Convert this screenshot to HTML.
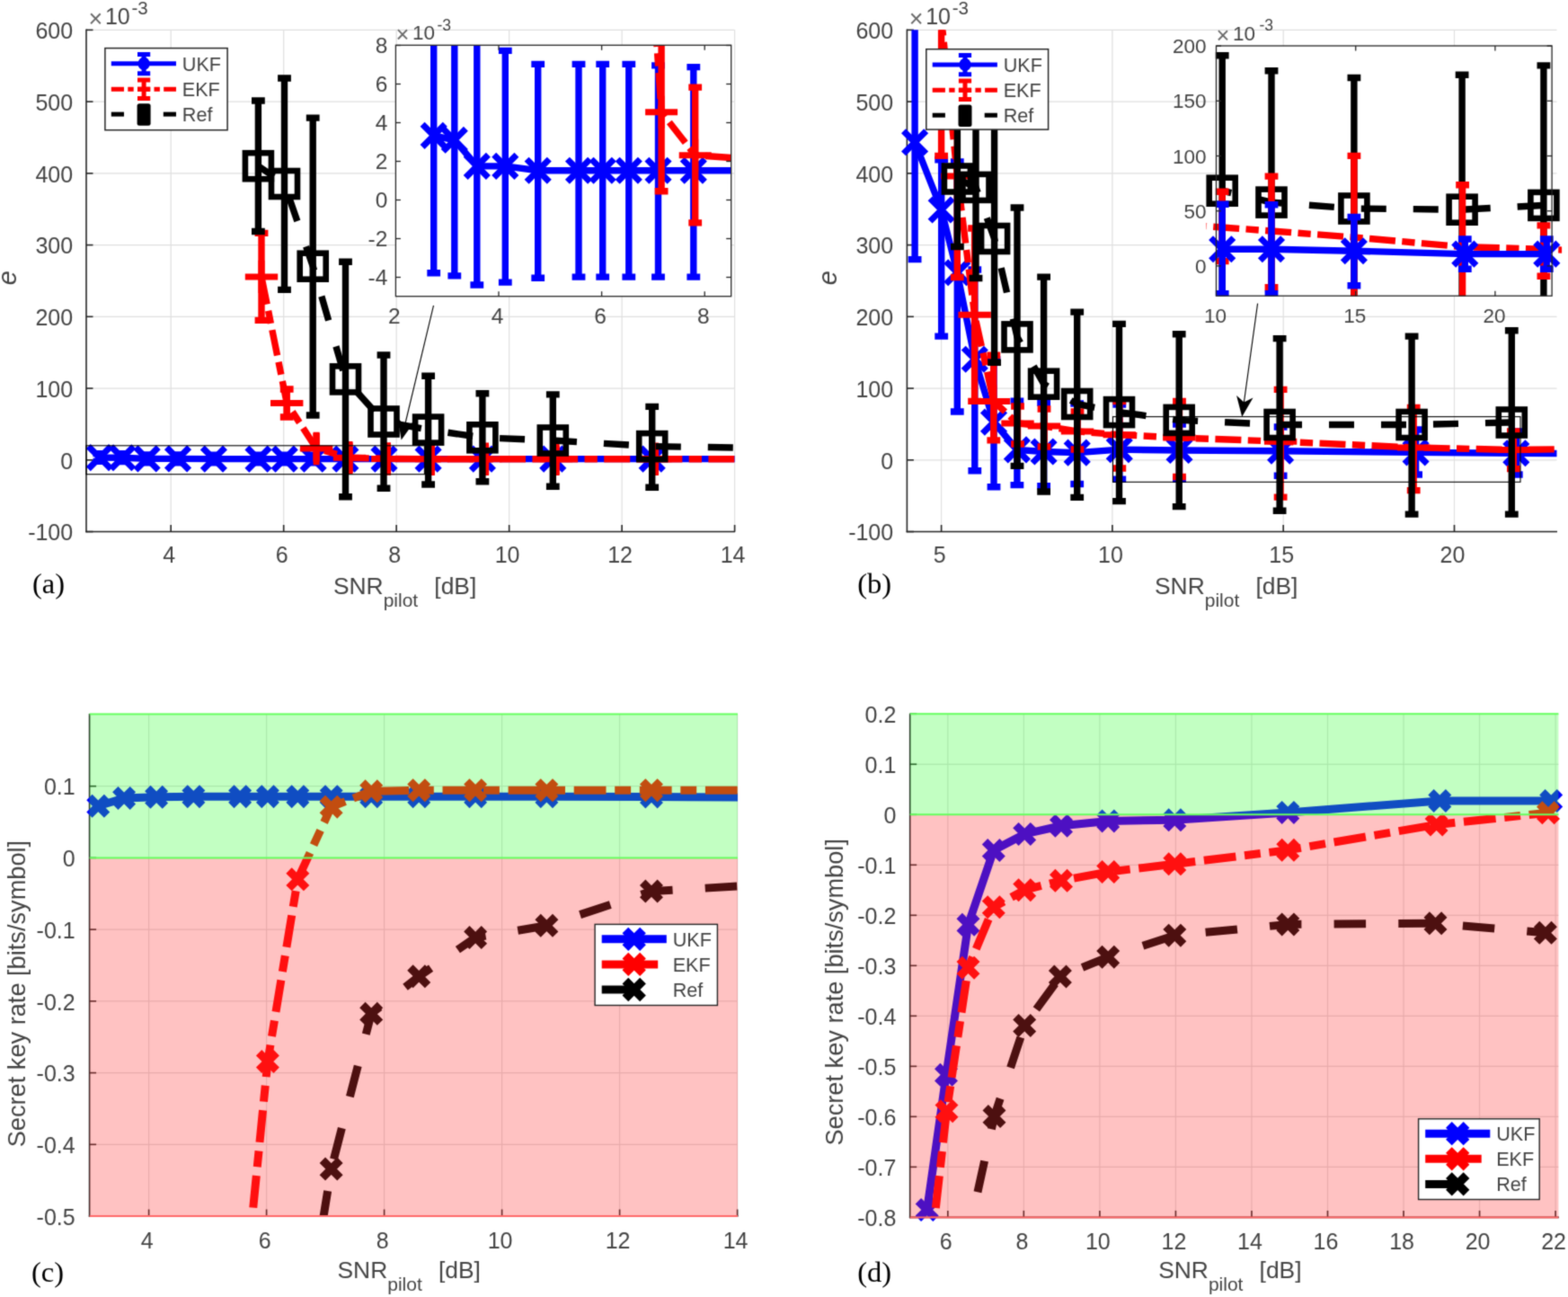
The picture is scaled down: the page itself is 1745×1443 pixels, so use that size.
<!DOCTYPE html>
<html><head><meta charset="utf-8"><title>Figure</title>
<style>html,body{margin:0;padding:0;background:#fff;}svg{display:block;}</style>
</head><body>
<svg xmlns="http://www.w3.org/2000/svg" width="1745" height="1443" viewBox="0 0 1745 1443">
<defs><filter id="soft" x="0" y="0" width="1745" height="1443" filterUnits="userSpaceOnUse" color-interpolation-filters="sRGB"><feConvolveMatrix order="3" kernelMatrix="0.062 0.249 0.062 0.249 1 0.249 0.062 0.249 0.062" divisor="2.244" edgeMode="duplicate"/></filter><clipPath id="cA"><rect x="96" y="33.2" width="721.6" height="558.3"/></clipPath><clipPath id="cIA"><rect x="440.4" y="50.3" width="373.3" height="279.4"/></clipPath><clipPath id="cB"><rect x="1009.4" y="33.2" width="723.1" height="558.3"/></clipPath><clipPath id="cIB"><rect x="1342.5" y="51" width="395.6" height="278.2"/></clipPath><clipPath id="cC"><rect x="99.6" y="794.5" width="721.4" height="558.5"/></clipPath><clipPath id="cD"><rect x="1012.7" y="794.3" width="721.7" height="560.1"/></clipPath></defs>
<g filter="url(#soft)">
<rect x="0" y="0" width="1745" height="1443" fill="#ffffff"/>
<line x1="190.2" y1="33.2" x2="190.2" y2="591.5" stroke="#dfdfdf" stroke-width="1.2"/>
<line x1="315.68" y1="33.2" x2="315.68" y2="591.5" stroke="#dfdfdf" stroke-width="1.2"/>
<line x1="441.16" y1="33.2" x2="441.16" y2="591.5" stroke="#dfdfdf" stroke-width="1.2"/>
<line x1="566.64" y1="33.2" x2="566.64" y2="591.5" stroke="#dfdfdf" stroke-width="1.2"/>
<line x1="692.12" y1="33.2" x2="692.12" y2="591.5" stroke="#dfdfdf" stroke-width="1.2"/>
<line x1="817.6" y1="33.2" x2="817.6" y2="591.5" stroke="#dfdfdf" stroke-width="1.2"/>
<line x1="96" y1="591.54" x2="817.6" y2="591.54" stroke="#dfdfdf" stroke-width="1.2"/>
<line x1="96" y1="511.8" x2="817.6" y2="511.8" stroke="#dfdfdf" stroke-width="1.2"/>
<line x1="96" y1="432.06" x2="817.6" y2="432.06" stroke="#dfdfdf" stroke-width="1.2"/>
<line x1="96" y1="352.32" x2="817.6" y2="352.32" stroke="#dfdfdf" stroke-width="1.2"/>
<line x1="96" y1="272.58" x2="817.6" y2="272.58" stroke="#dfdfdf" stroke-width="1.2"/>
<line x1="96" y1="192.84" x2="817.6" y2="192.84" stroke="#dfdfdf" stroke-width="1.2"/>
<line x1="96" y1="113.1" x2="817.6" y2="113.1" stroke="#dfdfdf" stroke-width="1.2"/>
<line x1="96" y1="33.36" x2="817.6" y2="33.36" stroke="#dfdfdf" stroke-width="1.2"/>
<line x1="96" y1="32.6" x2="96" y2="592.3" stroke="#262626" stroke-width="1.6"/>
<line x1="95.2" y1="591.5" x2="818.1" y2="591.5" stroke="#262626" stroke-width="1.6"/>
<line x1="190.2" y1="591.5" x2="190.2" y2="584" stroke="#262626" stroke-width="1.6"/>
<line x1="315.68" y1="591.5" x2="315.68" y2="584" stroke="#262626" stroke-width="1.6"/>
<line x1="441.16" y1="591.5" x2="441.16" y2="584" stroke="#262626" stroke-width="1.6"/>
<line x1="566.64" y1="591.5" x2="566.64" y2="584" stroke="#262626" stroke-width="1.6"/>
<line x1="692.12" y1="591.5" x2="692.12" y2="584" stroke="#262626" stroke-width="1.6"/>
<line x1="817.6" y1="591.5" x2="817.6" y2="584" stroke="#262626" stroke-width="1.6"/>
<line x1="96" y1="591.54" x2="103.5" y2="591.54" stroke="#262626" stroke-width="1.6"/>
<line x1="96" y1="511.8" x2="103.5" y2="511.8" stroke="#262626" stroke-width="1.6"/>
<line x1="96" y1="432.06" x2="103.5" y2="432.06" stroke="#262626" stroke-width="1.6"/>
<line x1="96" y1="352.32" x2="103.5" y2="352.32" stroke="#262626" stroke-width="1.6"/>
<line x1="96" y1="272.58" x2="103.5" y2="272.58" stroke="#262626" stroke-width="1.6"/>
<line x1="96" y1="192.84" x2="103.5" y2="192.84" stroke="#262626" stroke-width="1.6"/>
<line x1="96" y1="113.1" x2="103.5" y2="113.1" stroke="#262626" stroke-width="1.6"/>
<line x1="96" y1="33.36" x2="103.5" y2="33.36" stroke="#262626" stroke-width="1.6"/>
<text x="188.2" y="625.8" font-family="'Liberation Sans', Arial, sans-serif" font-size="25" fill="#444444" text-anchor="middle">4</text>
<text x="313.68" y="625.8" font-family="'Liberation Sans', Arial, sans-serif" font-size="25" fill="#444444" text-anchor="middle">6</text>
<text x="439.16" y="625.8" font-family="'Liberation Sans', Arial, sans-serif" font-size="25" fill="#444444" text-anchor="middle">8</text>
<text x="564.64" y="625.8" font-family="'Liberation Sans', Arial, sans-serif" font-size="25" fill="#444444" text-anchor="middle">10</text>
<text x="690.12" y="625.8" font-family="'Liberation Sans', Arial, sans-serif" font-size="25" fill="#444444" text-anchor="middle">12</text>
<text x="815.6" y="625.8" font-family="'Liberation Sans', Arial, sans-serif" font-size="25" fill="#444444" text-anchor="middle">14</text>
<text x="81.2" y="601.29" font-family="'Liberation Sans', Arial, sans-serif" font-size="25" fill="#444444" text-anchor="end">-100</text>
<text x="81.2" y="521.55" font-family="'Liberation Sans', Arial, sans-serif" font-size="25" fill="#444444" text-anchor="end">0</text>
<text x="81.2" y="441.81" font-family="'Liberation Sans', Arial, sans-serif" font-size="25" fill="#444444" text-anchor="end">100</text>
<text x="81.2" y="362.07" font-family="'Liberation Sans', Arial, sans-serif" font-size="25" fill="#444444" text-anchor="end">200</text>
<text x="81.2" y="282.33" font-family="'Liberation Sans', Arial, sans-serif" font-size="25" fill="#444444" text-anchor="end">300</text>
<text x="81.2" y="202.59" font-family="'Liberation Sans', Arial, sans-serif" font-size="25" fill="#444444" text-anchor="end">400</text>
<text x="81.2" y="122.85" font-family="'Liberation Sans', Arial, sans-serif" font-size="25" fill="#444444" text-anchor="end">500</text>
<text x="81.2" y="43.11" font-family="'Liberation Sans', Arial, sans-serif" font-size="25" fill="#444444" text-anchor="end">600</text>
<polyline points="110.9,509.1 136.2,509.3 163.6,510.4 198,510.4 237.9,510.6 287.5,510.6 316.7,510.6 348.6,510.6 384.4,510.6 427.5,510.6 476.6,510.6 536.9,510.6 615.3,510.6 725.7,510.6 860,510.6" fill="none" stroke="#0000ff" stroke-width="7.4" stroke-linejoin="miter" stroke-linecap="butt" clip-path="url(#cA)"/>
<path d="M110.9 504.6L110.9 513.4M103.5 504.6L118.3 504.6M103.5 513.4L118.3 513.4" stroke="#0000ff" stroke-width="7.4" fill="none" clip-path="url(#cA)"/>
<path d="M98.3 496.5L123.5 521.7M98.3 521.7L123.5 496.5" stroke="#0000ff" stroke-width="7" fill="none"/>
<path d="M136.2 504.8L136.2 513.6M128.8 504.8L143.6 504.8M128.8 513.6L143.6 513.6" stroke="#0000ff" stroke-width="7.4" fill="none" clip-path="url(#cA)"/>
<path d="M123.6 496.7L148.8 521.9M123.6 521.9L148.8 496.7" stroke="#0000ff" stroke-width="7" fill="none"/>
<path d="M163.6 505.9L163.6 514.7M156.2 505.9L171 505.9M156.2 514.7L171 514.7" stroke="#0000ff" stroke-width="7.4" fill="none" clip-path="url(#cA)"/>
<path d="M151 497.8L176.2 523M151 523L176.2 497.8" stroke="#0000ff" stroke-width="7" fill="none"/>
<path d="M198 505.9L198 514.7M190.6 505.9L205.4 505.9M190.6 514.7L205.4 514.7" stroke="#0000ff" stroke-width="7.4" fill="none" clip-path="url(#cA)"/>
<path d="M185.4 497.8L210.6 523M185.4 523L210.6 497.8" stroke="#0000ff" stroke-width="7" fill="none"/>
<path d="M237.9 506.1L237.9 514.9M230.5 506.1L245.3 506.1M230.5 514.9L245.3 514.9" stroke="#0000ff" stroke-width="7.4" fill="none" clip-path="url(#cA)"/>
<path d="M225.3 498L250.5 523.2M225.3 523.2L250.5 498" stroke="#0000ff" stroke-width="7" fill="none"/>
<path d="M287.5 506.1L287.5 514.9M280.1 506.1L294.9 506.1M280.1 514.9L294.9 514.9" stroke="#0000ff" stroke-width="7.4" fill="none" clip-path="url(#cA)"/>
<path d="M274.9 498L300.1 523.2M274.9 523.2L300.1 498" stroke="#0000ff" stroke-width="7" fill="none"/>
<path d="M316.7 506.1L316.7 514.9M309.3 506.1L324.1 506.1M309.3 514.9L324.1 514.9" stroke="#0000ff" stroke-width="7.4" fill="none" clip-path="url(#cA)"/>
<path d="M304.1 498L329.3 523.2M304.1 523.2L329.3 498" stroke="#0000ff" stroke-width="7" fill="none"/>
<path d="M348.6 506.1L348.6 514.9M341.2 506.1L356 506.1M341.2 514.9L356 514.9" stroke="#0000ff" stroke-width="7.4" fill="none" clip-path="url(#cA)"/>
<path d="M336 498L361.2 523.2M336 523.2L361.2 498" stroke="#0000ff" stroke-width="7" fill="none"/>
<path d="M384.4 506.1L384.4 514.9M377 506.1L391.8 506.1M377 514.9L391.8 514.9" stroke="#0000ff" stroke-width="7.4" fill="none" clip-path="url(#cA)"/>
<path d="M371.8 498L397 523.2M371.8 523.2L397 498" stroke="#0000ff" stroke-width="7" fill="none"/>
<path d="M427.5 506.1L427.5 514.9M420.1 506.1L434.9 506.1M420.1 514.9L434.9 514.9" stroke="#0000ff" stroke-width="7.4" fill="none" clip-path="url(#cA)"/>
<path d="M414.9 498L440.1 523.2M414.9 523.2L440.1 498" stroke="#0000ff" stroke-width="7" fill="none"/>
<path d="M476.6 506.1L476.6 514.9M469.2 506.1L484 506.1M469.2 514.9L484 514.9" stroke="#0000ff" stroke-width="7.4" fill="none" clip-path="url(#cA)"/>
<path d="M464 498L489.2 523.2M464 523.2L489.2 498" stroke="#0000ff" stroke-width="7" fill="none"/>
<path d="M536.9 506.1L536.9 514.9M529.5 506.1L544.3 506.1M529.5 514.9L544.3 514.9" stroke="#0000ff" stroke-width="7.4" fill="none" clip-path="url(#cA)"/>
<path d="M524.3 498L549.5 523.2M524.3 523.2L549.5 498" stroke="#0000ff" stroke-width="7" fill="none"/>
<path d="M615.3 506.1L615.3 514.9M607.9 506.1L622.7 506.1M607.9 514.9L622.7 514.9" stroke="#0000ff" stroke-width="7.4" fill="none" clip-path="url(#cA)"/>
<path d="M602.7 498L627.9 523.2M602.7 523.2L627.9 498" stroke="#0000ff" stroke-width="7" fill="none"/>
<path d="M725.7 506.1L725.7 514.9M718.3 506.1L733.1 506.1M718.3 514.9L733.1 514.9" stroke="#0000ff" stroke-width="7.4" fill="none" clip-path="url(#cA)"/>
<path d="M713.1 498L738.3 523.2M713.1 523.2L738.3 498" stroke="#0000ff" stroke-width="7" fill="none"/>
<polyline points="291,307.9 319.2,448.5 352.1,499 389,509.3 431.4,510.4 480.3,510.7 540.5,510.7 619,510.7 729.4,510.7 860,510.7" fill="none" stroke="#ff0000" stroke-width="7.4" stroke-linejoin="miter" stroke-linecap="butt" stroke-dasharray="29 7.4 14.3 7.4" stroke-dashoffset="55.8" clip-path="url(#cA)"/>
<path d="M291 259.4L291 356.4M283.6 259.4L298.4 259.4M283.6 356.4L298.4 356.4" stroke="#ff0000" stroke-width="7.4" fill="none" clip-path="url(#cA)"/>
<path d="M272.8 307.9L309.2 307.9M291 289.7L291 326.1" stroke="#ff0000" stroke-width="7" fill="none"/>
<path d="M319.2 433L319.2 464M311.8 433L326.6 433M311.8 464L326.6 464" stroke="#ff0000" stroke-width="7.4" fill="none" clip-path="url(#cA)"/>
<path d="M301 448.5L337.4 448.5M319.2 430.3L319.2 466.7" stroke="#ff0000" stroke-width="7" fill="none"/>
<path d="M352.1 481.8L352.1 513.6M352.1 481.8L352.1 481.8M352.1 513.6L352.1 513.6" stroke="#ff0000" stroke-width="7.4" fill="none" clip-path="url(#cA)"/>
<path d="M333.9 499L370.3 499M352.1 480.8L352.1 517.2" stroke="#ff0000" stroke-width="7" fill="none"/>
<path d="M389 492.4L389 526.3M389 492.4L389 492.4M389 526.3L389 526.3" stroke="#ff0000" stroke-width="7.4" fill="none" clip-path="url(#cA)"/>
<path d="M370.8 509.3L407.2 509.3M389 491.1L389 527.5" stroke="#ff0000" stroke-width="7" fill="none"/>
<path d="M431.4 494.5L431.4 528.4M431.4 494.5L431.4 494.5M431.4 528.4L431.4 528.4" stroke="#ff0000" stroke-width="7.4" fill="none" clip-path="url(#cA)"/>
<path d="M413.2 510.4L449.6 510.4M431.4 492.2L431.4 528.6" stroke="#ff0000" stroke-width="7" fill="none"/>
<path d="M480.3 495.5L480.3 528.2M480.3 495.5L480.3 495.5M480.3 528.2L480.3 528.2" stroke="#ff0000" stroke-width="7.4" fill="none" clip-path="url(#cA)"/>
<path d="M462.1 510.7L498.5 510.7M480.3 492.5L480.3 528.9" stroke="#ff0000" stroke-width="7" fill="none"/>
<path d="M540.5 495.5L540.5 528.2M540.5 495.5L540.5 495.5M540.5 528.2L540.5 528.2" stroke="#ff0000" stroke-width="7.4" fill="none" clip-path="url(#cA)"/>
<path d="M522.3 510.7L558.7 510.7M540.5 492.5L540.5 528.9" stroke="#ff0000" stroke-width="7" fill="none"/>
<path d="M619 495.5L619 528.2M619 495.5L619 495.5M619 528.2L619 528.2" stroke="#ff0000" stroke-width="7.4" fill="none" clip-path="url(#cA)"/>
<path d="M600.8 510.7L637.2 510.7M619 492.5L619 528.9" stroke="#ff0000" stroke-width="7" fill="none"/>
<path d="M729.4 495.5L729.4 528.2M729.4 495.5L729.4 495.5M729.4 528.2L729.4 528.2" stroke="#ff0000" stroke-width="7.4" fill="none" clip-path="url(#cA)"/>
<path d="M711.2 510.7L747.6 510.7M729.4 492.5L729.4 528.9" stroke="#ff0000" stroke-width="7" fill="none"/>
<polyline points="287.4,184.7 316.5,204.5 348.2,296.2 384.5,421.9 427,469 476.6,478.1 536.9,486.8 615.3,490 725.7,496.6 900,499.3" fill="none" stroke="#000000" stroke-width="7.4" stroke-linejoin="miter" stroke-linecap="butt" stroke-dasharray="28 30" stroke-dashoffset="6.98" clip-path="url(#cA)"/>
<path d="M287.4 112L287.4 257.5M280 112L294.8 112M280 257.5L294.8 257.5" stroke="#000000" stroke-width="7.4" fill="none" clip-path="url(#cA)"/>
<rect x="272.9" y="170.2" width="29" height="29" fill="none" stroke="#000000" stroke-width="6.6"/>
<path d="M316.5 87L316.5 322.4M309.1 87L323.9 87M309.1 322.4L323.9 322.4" stroke="#000000" stroke-width="7.4" fill="none" clip-path="url(#cA)"/>
<rect x="302" y="190" width="29" height="29" fill="none" stroke="#000000" stroke-width="6.6"/>
<path d="M348.2 131.1L348.2 462M340.8 131.1L355.6 131.1M340.8 462L355.6 462" stroke="#000000" stroke-width="7.4" fill="none" clip-path="url(#cA)"/>
<rect x="333.7" y="281.7" width="29" height="29" fill="none" stroke="#000000" stroke-width="6.6"/>
<path d="M384.5 291.3L384.5 552.8M377.1 291.3L391.9 291.3M377.1 552.8L391.9 552.8" stroke="#000000" stroke-width="7.4" fill="none" clip-path="url(#cA)"/>
<rect x="370" y="407.4" width="29" height="29" fill="none" stroke="#000000" stroke-width="6.6"/>
<path d="M427 395L427 543.3M419.6 395L434.4 395M419.6 543.3L434.4 543.3" stroke="#000000" stroke-width="7.4" fill="none" clip-path="url(#cA)"/>
<rect x="412.5" y="454.5" width="29" height="29" fill="none" stroke="#000000" stroke-width="6.6"/>
<path d="M476.6 418.2L476.6 539M469.2 418.2L484 418.2M469.2 539L484 539" stroke="#000000" stroke-width="7.4" fill="none" clip-path="url(#cA)"/>
<rect x="462.1" y="463.6" width="29" height="29" fill="none" stroke="#000000" stroke-width="6.6"/>
<path d="M536.9 437.8L536.9 535.8M529.5 437.8L544.3 437.8M529.5 535.8L544.3 535.8" stroke="#000000" stroke-width="7.4" fill="none" clip-path="url(#cA)"/>
<rect x="522.4" y="472.3" width="29" height="29" fill="none" stroke="#000000" stroke-width="6.6"/>
<path d="M615.3 438.9L615.3 541.2M607.9 438.9L622.7 438.9M607.9 541.2L622.7 541.2" stroke="#000000" stroke-width="7.4" fill="none" clip-path="url(#cA)"/>
<rect x="600.8" y="475.5" width="29" height="29" fill="none" stroke="#000000" stroke-width="6.6"/>
<path d="M725.7 452.4L725.7 542.3M718.3 452.4L733.1 452.4M718.3 542.3L733.1 542.3" stroke="#000000" stroke-width="7.4" fill="none" clip-path="url(#cA)"/>
<rect x="711.2" y="482.1" width="29" height="29" fill="none" stroke="#000000" stroke-width="6.6"/>
<rect x="96" y="495.8" width="376.4" height="31.9" fill="none" stroke="#000" stroke-width="1.1"/>
<line x1="482.5" y1="339.8" x2="449.96" y2="475.5" stroke="#000" stroke-width="1.1"/>
<path d="M446.6 489.5 L460.94 469.59 L450.42 473.55 L442.85 465.26 Z" fill="#000"/>
<rect x="116.9" y="53.6" width="136.2" height="91.1" fill="#fff" stroke="#262626" stroke-width="1.5"/>
<line x1="123.8" y1="70.8" x2="196" y2="70.8" stroke="#0000ff" stroke-width="5"/>
<path d="M160.1 60.4L160.1 81.7M153 60.4L167.2 60.4M153 81.7L167.2 81.7" stroke="#0000ff" stroke-width="5" fill="none"/>
<ellipse cx="160.1" cy="70.8" rx="6.6" ry="7.2" fill="#0000ff"/>
<polyline points="123.8,99.2 196,99.2" fill="none" stroke="#ff0000" stroke-width="5" stroke-linejoin="miter" stroke-linecap="butt" stroke-dasharray="14.2 4.3 6.4 4.3"/>
<path d="M160.1 89L160.1 109.4M153 89L167.2 89M153 109.4L167.2 109.4" stroke="#ff0000" stroke-width="5" fill="none"/>
<line x1="153" y1="99.2" x2="167.2" y2="99.2" stroke="#ff0000" stroke-width="5"/>
<line x1="123.8" y1="127.1" x2="138" y2="127.1" stroke="#000000" stroke-width="5"/>
<line x1="181.8" y1="127.1" x2="196" y2="127.1" stroke="#000000" stroke-width="5"/>
<rect x="152.6" y="115.3" width="15" height="24.5" rx="2.5" fill="#000"/>
<text x="202.8" y="79.2" font-family="'Liberation Sans', Arial, sans-serif" font-size="21.6" fill="#444444" text-anchor="start">UKF</text>
<text x="202.8" y="107" font-family="'Liberation Sans', Arial, sans-serif" font-size="21.6" fill="#444444" text-anchor="start">EKF</text>
<text x="202.8" y="134.9" font-family="'Liberation Sans', Arial, sans-serif" font-size="21.6" fill="#444444" text-anchor="start">Ref</text>
<rect x="440.4" y="50.3" width="373.3" height="279.4" fill="#fff"/>
<polyline points="482.7,150.9 505.8,155.8 530.8,184.9 562.3,184.9 598.7,189.7 644,189.7 670.7,189.7 699.8,189.7 732.5,189.7 771.8,189.7 820,189.7" fill="none" stroke="#0000ff" stroke-width="7.4" stroke-linejoin="miter" stroke-linecap="butt" clip-path="url(#cIA)"/>
<path d="M482.7 20L482.7 303.7M475.3 20L490.1 20M475.3 303.7L490.1 303.7" stroke="#0000ff" stroke-width="7.4" fill="none" clip-path="url(#cIA)"/>
<path d="M470.1 138.3L495.3 163.5M470.1 163.5L495.3 138.3" stroke="#0000ff" stroke-width="7" fill="none" clip-path="url(#cIA)"/>
<path d="M505.8 20L505.8 306.9M498.4 20L513.2 20M498.4 306.9L513.2 306.9" stroke="#0000ff" stroke-width="7.4" fill="none" clip-path="url(#cIA)"/>
<path d="M493.2 143.2L518.4 168.4M493.2 168.4L518.4 143.2" stroke="#0000ff" stroke-width="7" fill="none" clip-path="url(#cIA)"/>
<path d="M530.8 20L530.8 317M523.4 20L538.2 20M523.4 317L538.2 317" stroke="#0000ff" stroke-width="7.4" fill="none" clip-path="url(#cIA)"/>
<path d="M518.2 172.3L543.4 197.5M518.2 197.5L543.4 172.3" stroke="#0000ff" stroke-width="7" fill="none" clip-path="url(#cIA)"/>
<path d="M562.3 56.4L562.3 314.1M554.9 56.4L569.7 56.4M554.9 314.1L569.7 314.1" stroke="#0000ff" stroke-width="7.4" fill="none" clip-path="url(#cIA)"/>
<path d="M549.7 172.3L574.9 197.5M549.7 197.5L574.9 172.3" stroke="#0000ff" stroke-width="7" fill="none" clip-path="url(#cIA)"/>
<path d="M598.7 71.4L598.7 309.3M591.3 71.4L606.1 71.4M591.3 309.3L606.1 309.3" stroke="#0000ff" stroke-width="7.4" fill="none" clip-path="url(#cIA)"/>
<path d="M586.1 177.1L611.3 202.3M586.1 202.3L611.3 177.1" stroke="#0000ff" stroke-width="7" fill="none" clip-path="url(#cIA)"/>
<path d="M644 71.4L644 308.1M636.6 71.4L651.4 71.4M636.6 308.1L651.4 308.1" stroke="#0000ff" stroke-width="7.4" fill="none" clip-path="url(#cIA)"/>
<path d="M631.4 177.1L656.6 202.3M631.4 202.3L656.6 177.1" stroke="#0000ff" stroke-width="7" fill="none" clip-path="url(#cIA)"/>
<path d="M670.7 71.4L670.7 308.1M663.3 71.4L678.1 71.4M663.3 308.1L678.1 308.1" stroke="#0000ff" stroke-width="7.4" fill="none" clip-path="url(#cIA)"/>
<path d="M658.1 177.1L683.3 202.3M658.1 202.3L683.3 177.1" stroke="#0000ff" stroke-width="7" fill="none" clip-path="url(#cIA)"/>
<path d="M699.8 71.4L699.8 308.1M692.4 71.4L707.2 71.4M692.4 308.1L707.2 308.1" stroke="#0000ff" stroke-width="7.4" fill="none" clip-path="url(#cIA)"/>
<path d="M687.2 177.1L712.4 202.3M687.2 202.3L712.4 177.1" stroke="#0000ff" stroke-width="7" fill="none" clip-path="url(#cIA)"/>
<path d="M732.5 72.9L732.5 308.1M725.1 72.9L739.9 72.9M725.1 308.1L739.9 308.1" stroke="#0000ff" stroke-width="7.4" fill="none" clip-path="url(#cIA)"/>
<path d="M719.9 177.1L745.1 202.3M719.9 202.3L745.1 177.1" stroke="#0000ff" stroke-width="7" fill="none" clip-path="url(#cIA)"/>
<path d="M771.8 74.6L771.8 308.1M764.4 74.6L779.2 74.6M764.4 308.1L779.2 308.1" stroke="#0000ff" stroke-width="7.4" fill="none" clip-path="url(#cIA)"/>
<path d="M759.2 177.1L784.4 202.3M759.2 202.3L784.4 177.1" stroke="#0000ff" stroke-width="7" fill="none" clip-path="url(#cIA)"/>
<polyline points="700,-400 736.1,124.8 773.7,172.8 830,176.5" fill="none" stroke="#ff0000" stroke-width="7.4" stroke-linejoin="miter" stroke-linecap="butt" stroke-dasharray="29 7.4 14.3 7.4" stroke-dashoffset="40.76" clip-path="url(#cIA)"/>
<path d="M736.1 20L736.1 212.8M728.7 20L743.5 20M728.7 212.8L743.5 212.8" stroke="#ff0000" stroke-width="7.4" fill="none" clip-path="url(#cIA)"/>
<path d="M773.7 97.1L773.7 247.9M766.3 97.1L781.1 97.1M766.3 247.9L781.1 247.9" stroke="#ff0000" stroke-width="7.4" fill="none" clip-path="url(#cIA)"/>
<path d="M718.1 124.8L754.1 124.8M736.1 106.8L736.1 142.8" stroke="#ff0000" stroke-width="7" fill="none" clip-path="url(#cIA)"/>
<path d="M755.7 172.8L791.7 172.8M773.7 154.8L773.7 190.8" stroke="#ff0000" stroke-width="7" fill="none" clip-path="url(#cIA)"/>
<rect x="440.4" y="50.3" width="373.3" height="279.4" fill="none" stroke="#262626" stroke-width="1.3"/>
<line x1="555" y1="329.7" x2="555" y2="324.2" stroke="#262626" stroke-width="1.3"/>
<line x1="555" y1="50.3" x2="555" y2="55.8" stroke="#262626" stroke-width="1.3"/>
<line x1="669.6" y1="329.7" x2="669.6" y2="324.2" stroke="#262626" stroke-width="1.3"/>
<line x1="669.6" y1="50.3" x2="669.6" y2="55.8" stroke="#262626" stroke-width="1.3"/>
<line x1="784.2" y1="329.7" x2="784.2" y2="324.2" stroke="#262626" stroke-width="1.3"/>
<line x1="784.2" y1="50.3" x2="784.2" y2="55.8" stroke="#262626" stroke-width="1.3"/>
<line x1="440.4" y1="308.5" x2="445.9" y2="308.5" stroke="#262626" stroke-width="1.3"/>
<line x1="813.7" y1="308.5" x2="808.2" y2="308.5" stroke="#262626" stroke-width="1.3"/>
<line x1="440.4" y1="265.5" x2="445.9" y2="265.5" stroke="#262626" stroke-width="1.3"/>
<line x1="813.7" y1="265.5" x2="808.2" y2="265.5" stroke="#262626" stroke-width="1.3"/>
<line x1="440.4" y1="222.5" x2="445.9" y2="222.5" stroke="#262626" stroke-width="1.3"/>
<line x1="813.7" y1="222.5" x2="808.2" y2="222.5" stroke="#262626" stroke-width="1.3"/>
<line x1="440.4" y1="179.5" x2="445.9" y2="179.5" stroke="#262626" stroke-width="1.3"/>
<line x1="813.7" y1="179.5" x2="808.2" y2="179.5" stroke="#262626" stroke-width="1.3"/>
<line x1="440.4" y1="136.5" x2="445.9" y2="136.5" stroke="#262626" stroke-width="1.3"/>
<line x1="813.7" y1="136.5" x2="808.2" y2="136.5" stroke="#262626" stroke-width="1.3"/>
<line x1="440.4" y1="93.5" x2="445.9" y2="93.5" stroke="#262626" stroke-width="1.3"/>
<line x1="813.7" y1="93.5" x2="808.2" y2="93.5" stroke="#262626" stroke-width="1.3"/>
<line x1="440.4" y1="50.5" x2="445.9" y2="50.5" stroke="#262626" stroke-width="1.3"/>
<line x1="813.7" y1="50.5" x2="808.2" y2="50.5" stroke="#262626" stroke-width="1.3"/>
<text x="438.9" y="360.2" font-family="'Liberation Sans', Arial, sans-serif" font-size="24.5" fill="#444444" text-anchor="middle">2</text>
<text x="553.5" y="360.2" font-family="'Liberation Sans', Arial, sans-serif" font-size="24.5" fill="#444444" text-anchor="middle">4</text>
<text x="668.1" y="360.2" font-family="'Liberation Sans', Arial, sans-serif" font-size="24.5" fill="#444444" text-anchor="middle">6</text>
<text x="782.7" y="360.2" font-family="'Liberation Sans', Arial, sans-serif" font-size="24.5" fill="#444444" text-anchor="middle">8</text>
<text x="431.4" y="317.27" font-family="'Liberation Sans', Arial, sans-serif" font-size="24.5" fill="#444444" text-anchor="end">-4</text>
<text x="431.4" y="274.27" font-family="'Liberation Sans', Arial, sans-serif" font-size="24.5" fill="#444444" text-anchor="end">-2</text>
<text x="431.4" y="231.27" font-family="'Liberation Sans', Arial, sans-serif" font-size="24.5" fill="#444444" text-anchor="end">0</text>
<text x="431.4" y="188.27" font-family="'Liberation Sans', Arial, sans-serif" font-size="24.5" fill="#444444" text-anchor="end">2</text>
<text x="431.4" y="145.27" font-family="'Liberation Sans', Arial, sans-serif" font-size="24.5" fill="#444444" text-anchor="end">4</text>
<text x="431.4" y="102.27" font-family="'Liberation Sans', Arial, sans-serif" font-size="24.5" fill="#444444" text-anchor="end">6</text>
<text x="431.4" y="59.27" font-family="'Liberation Sans', Arial, sans-serif" font-size="24.5" fill="#444444" text-anchor="end">8</text>
<text x="440.6" y="47.3" font-family="'Liberation Sans', Arial, sans-serif" font-size="25.5" fill="#6a6a6a" text-anchor="start">×</text>
<text x="459" y="44.3" font-family="'Liberation Sans', Arial, sans-serif" font-size="22.5" fill="#444444" text-anchor="start">10</text>
<text x="486.5" y="33.6" font-family="'Liberation Sans', Arial, sans-serif" font-size="17.5" fill="#444444" text-anchor="start">-3</text>
<text x="36" y="659.5" font-family="'Liberation Serif', 'Times New Roman', serif" font-size="32.5" fill="#000" text-anchor="start">(a)</text>
<text x="370.9" y="660.7" font-family="'Liberation Sans', Arial, sans-serif" font-size="26.4" fill="#444444">SNR<tspan font-size="21" dy="14.2">pilot</tspan></text>
<text x="483.3" y="660.7" font-family="'Liberation Sans', Arial, sans-serif" font-size="26.4" fill="#444444" text-anchor="start">[dB]</text>
<text x="0" y="0" transform="translate(18.2,309.3) rotate(-90)" font-family="'Liberation Sans', Arial, sans-serif" font-size="29" font-style="italic" fill="#444444" text-anchor="middle">e</text>
<text x="98.5" y="30" font-family="'Liberation Sans', Arial, sans-serif" font-size="27" fill="#6a6a6a" text-anchor="start">×</text>
<text x="116.9" y="26.6" font-family="'Liberation Sans', Arial, sans-serif" font-size="25" fill="#444444" text-anchor="start">10</text>
<text x="146.5" y="16" font-family="'Liberation Sans', Arial, sans-serif" font-size="20.5" fill="#444444" text-anchor="start">-3</text>
<line x1="1047.6" y1="33.2" x2="1047.6" y2="591.5" stroke="#dfdfdf" stroke-width="1.2"/>
<line x1="1237.9" y1="33.2" x2="1237.9" y2="591.5" stroke="#dfdfdf" stroke-width="1.2"/>
<line x1="1428.2" y1="33.2" x2="1428.2" y2="591.5" stroke="#dfdfdf" stroke-width="1.2"/>
<line x1="1618.5" y1="33.2" x2="1618.5" y2="591.5" stroke="#dfdfdf" stroke-width="1.2"/>
<line x1="1009.4" y1="591.54" x2="1732.5" y2="591.54" stroke="#dfdfdf" stroke-width="1.2"/>
<line x1="1009.4" y1="511.8" x2="1732.5" y2="511.8" stroke="#dfdfdf" stroke-width="1.2"/>
<line x1="1009.4" y1="432.06" x2="1732.5" y2="432.06" stroke="#dfdfdf" stroke-width="1.2"/>
<line x1="1009.4" y1="352.32" x2="1732.5" y2="352.32" stroke="#dfdfdf" stroke-width="1.2"/>
<line x1="1009.4" y1="272.58" x2="1732.5" y2="272.58" stroke="#dfdfdf" stroke-width="1.2"/>
<line x1="1009.4" y1="192.84" x2="1732.5" y2="192.84" stroke="#dfdfdf" stroke-width="1.2"/>
<line x1="1009.4" y1="113.1" x2="1732.5" y2="113.1" stroke="#dfdfdf" stroke-width="1.2"/>
<line x1="1009.4" y1="33.36" x2="1732.5" y2="33.36" stroke="#dfdfdf" stroke-width="1.2"/>
<line x1="1009.4" y1="32.6" x2="1009.4" y2="592.3" stroke="#262626" stroke-width="1.6"/>
<line x1="1008.6" y1="591.5" x2="1733" y2="591.5" stroke="#262626" stroke-width="1.6"/>
<line x1="1047.6" y1="591.5" x2="1047.6" y2="584" stroke="#262626" stroke-width="1.6"/>
<line x1="1237.9" y1="591.5" x2="1237.9" y2="584" stroke="#262626" stroke-width="1.6"/>
<line x1="1428.2" y1="591.5" x2="1428.2" y2="584" stroke="#262626" stroke-width="1.6"/>
<line x1="1618.5" y1="591.5" x2="1618.5" y2="584" stroke="#262626" stroke-width="1.6"/>
<line x1="1009.4" y1="591.54" x2="1016.9" y2="591.54" stroke="#262626" stroke-width="1.6"/>
<line x1="1009.4" y1="511.8" x2="1016.9" y2="511.8" stroke="#262626" stroke-width="1.6"/>
<line x1="1009.4" y1="432.06" x2="1016.9" y2="432.06" stroke="#262626" stroke-width="1.6"/>
<line x1="1009.4" y1="352.32" x2="1016.9" y2="352.32" stroke="#262626" stroke-width="1.6"/>
<line x1="1009.4" y1="272.58" x2="1016.9" y2="272.58" stroke="#262626" stroke-width="1.6"/>
<line x1="1009.4" y1="192.84" x2="1016.9" y2="192.84" stroke="#262626" stroke-width="1.6"/>
<line x1="1009.4" y1="113.1" x2="1016.9" y2="113.1" stroke="#262626" stroke-width="1.6"/>
<line x1="1009.4" y1="33.36" x2="1016.9" y2="33.36" stroke="#262626" stroke-width="1.6"/>
<text x="1045.6" y="625.8" font-family="'Liberation Sans', Arial, sans-serif" font-size="25" fill="#444444" text-anchor="middle">5</text>
<text x="1235.9" y="625.8" font-family="'Liberation Sans', Arial, sans-serif" font-size="25" fill="#444444" text-anchor="middle">10</text>
<text x="1426.2" y="625.8" font-family="'Liberation Sans', Arial, sans-serif" font-size="25" fill="#444444" text-anchor="middle">15</text>
<text x="1616.5" y="625.8" font-family="'Liberation Sans', Arial, sans-serif" font-size="25" fill="#444444" text-anchor="middle">20</text>
<text x="994.2" y="601.29" font-family="'Liberation Sans', Arial, sans-serif" font-size="25" fill="#444444" text-anchor="end">-100</text>
<text x="994.2" y="521.55" font-family="'Liberation Sans', Arial, sans-serif" font-size="25" fill="#444444" text-anchor="end">0</text>
<text x="994.2" y="441.81" font-family="'Liberation Sans', Arial, sans-serif" font-size="25" fill="#444444" text-anchor="end">100</text>
<text x="994.2" y="362.07" font-family="'Liberation Sans', Arial, sans-serif" font-size="25" fill="#444444" text-anchor="end">200</text>
<text x="994.2" y="282.33" font-family="'Liberation Sans', Arial, sans-serif" font-size="25" fill="#444444" text-anchor="end">300</text>
<text x="994.2" y="202.59" font-family="'Liberation Sans', Arial, sans-serif" font-size="25" fill="#444444" text-anchor="end">400</text>
<text x="994.2" y="122.85" font-family="'Liberation Sans', Arial, sans-serif" font-size="25" fill="#444444" text-anchor="end">500</text>
<text x="994.2" y="43.11" font-family="'Liberation Sans', Arial, sans-serif" font-size="25" fill="#444444" text-anchor="end">600</text>
<polyline points="1018.1,158.3 1047.7,233.5 1065.3,303.3 1084.8,399.7 1106,469.6 1131.9,500.4 1161.6,502.5 1198.7,503.6 1245.8,500.1 1312.5,501 1425.1,501.7 1575.6,503.4 1687.3,504.2 1800,505" fill="none" stroke="#0000ff" stroke-width="7.4" stroke-linejoin="miter" stroke-linecap="butt" clip-path="url(#cB)"/>
<path d="M1018.1 0L1018.1 288.6M1010.7 0L1025.5 0M1010.7 288.6L1025.5 288.6" stroke="#0000ff" stroke-width="7.4" fill="none" clip-path="url(#cB)"/>
<path d="M1005.5 145.7L1030.7 170.9M1005.5 170.9L1030.7 145.7" stroke="#0000ff" stroke-width="7" fill="none"/>
<path d="M1047.7 177.7L1047.7 374.1M1040.3 177.7L1055.1 177.7M1040.3 374.1L1055.1 374.1" stroke="#0000ff" stroke-width="7.4" fill="none" clip-path="url(#cB)"/>
<path d="M1035.1 220.9L1060.3 246.1M1035.1 246.1L1060.3 220.9" stroke="#0000ff" stroke-width="7" fill="none"/>
<path d="M1065.3 180L1065.3 458M1057.9 180L1072.7 180M1057.9 458L1072.7 458" stroke="#0000ff" stroke-width="7.4" fill="none" clip-path="url(#cB)"/>
<path d="M1052.7 290.7L1077.9 315.9M1052.7 315.9L1077.9 290.7" stroke="#0000ff" stroke-width="7" fill="none"/>
<path d="M1084.8 300L1084.8 523.7M1077.4 300L1092.2 300M1077.4 523.7L1092.2 523.7" stroke="#0000ff" stroke-width="7.4" fill="none" clip-path="url(#cB)"/>
<path d="M1072.2 387.1L1097.4 412.3M1072.2 412.3L1097.4 387.1" stroke="#0000ff" stroke-width="7" fill="none"/>
<path d="M1106 400L1106 541.7M1098.6 400L1113.4 400M1098.6 541.7L1113.4 541.7" stroke="#0000ff" stroke-width="7.4" fill="none" clip-path="url(#cB)"/>
<path d="M1093.4 457L1118.6 482.2M1093.4 482.2L1118.6 457" stroke="#0000ff" stroke-width="7" fill="none"/>
<path d="M1131.9 446.3L1131.9 539.6M1124.5 446.3L1139.3 446.3M1124.5 539.6L1139.3 539.6" stroke="#0000ff" stroke-width="7.4" fill="none" clip-path="url(#cB)"/>
<path d="M1119.3 487.8L1144.5 513M1119.3 513L1144.5 487.8" stroke="#0000ff" stroke-width="7" fill="none"/>
<path d="M1161.6 448.4L1161.6 540.7M1154.2 448.4L1169 448.4M1154.2 540.7L1169 540.7" stroke="#0000ff" stroke-width="7.4" fill="none" clip-path="url(#cB)"/>
<path d="M1149 489.9L1174.2 515.1M1149 515.1L1174.2 489.9" stroke="#0000ff" stroke-width="7" fill="none"/>
<path d="M1198.7 449L1198.7 538.5M1191.3 449L1206.1 449M1191.3 538.5L1206.1 538.5" stroke="#0000ff" stroke-width="7.4" fill="none" clip-path="url(#cB)"/>
<path d="M1186.1 491L1211.3 516.2M1186.1 516.2L1211.3 491" stroke="#0000ff" stroke-width="7" fill="none"/>
<path d="M1245.8 450L1245.8 533.2M1238.4 450L1253.2 450M1238.4 533.2L1253.2 533.2" stroke="#0000ff" stroke-width="7.4" fill="none" clip-path="url(#cB)"/>
<path d="M1233.2 487.5L1258.4 512.7M1233.2 512.7L1258.4 487.5" stroke="#0000ff" stroke-width="7" fill="none"/>
<path d="M1312.5 472L1312.5 533.2M1305.1 472L1319.9 472M1305.1 533.2L1319.9 533.2" stroke="#0000ff" stroke-width="7.4" fill="none" clip-path="url(#cB)"/>
<path d="M1299.9 488.4L1325.1 513.6M1299.9 513.6L1325.1 488.4" stroke="#0000ff" stroke-width="7" fill="none"/>
<path d="M1425.1 475L1425.1 529.2M1417.7 475L1432.5 475M1417.7 529.2L1432.5 529.2" stroke="#0000ff" stroke-width="7.4" fill="none" clip-path="url(#cB)"/>
<path d="M1412.5 489.1L1437.7 514.3M1412.5 514.3L1437.7 489.1" stroke="#0000ff" stroke-width="7" fill="none"/>
<path d="M1575.6 478L1575.6 528M1568.2 478L1583 478M1568.2 528L1583 528" stroke="#0000ff" stroke-width="7.4" fill="none" clip-path="url(#cB)"/>
<path d="M1563 490.8L1588.2 516M1563 516L1588.2 490.8" stroke="#0000ff" stroke-width="7" fill="none"/>
<path d="M1687.3 480L1687.3 528M1679.9 480L1694.7 480M1679.9 528L1694.7 528" stroke="#0000ff" stroke-width="7.4" fill="none" clip-path="url(#cB)"/>
<path d="M1674.7 491.6L1699.9 516.8M1674.7 516.8L1699.9 491.6" stroke="#0000ff" stroke-width="7" fill="none"/>
<polyline points="1018.1,-600 1047.6,20 1065.3,196 1084.6,350.3 1105.8,446.4 1132.5,471 1162,474 1199,480 1245.8,483.7 1312.5,487 1425.1,491.2 1573.2,497.9 1684.4,500.5 1800,499" fill="none" stroke="#ff0000" stroke-width="7.4" stroke-linejoin="miter" stroke-linecap="butt" stroke-dasharray="29 7.4 14.3 7.4" stroke-dashoffset="27.71" clip-path="url(#cB)"/>
<path d="M1018.1 -900L1018.1 -300M1010.7 -900L1025.5 -900M1010.7 -300L1025.5 -300" stroke="#ff0000" stroke-width="7.4" fill="none" clip-path="url(#cB)"/>
<path d="M1047.6 -133L1047.6 173.4M1040.2 -133L1055 -133M1040.2 173.4L1055 173.4" stroke="#ff0000" stroke-width="7.4" fill="none" clip-path="url(#cB)"/>
<path d="M1065.3 85L1065.3 308.5M1057.9 85L1072.7 85M1057.9 308.5L1072.7 308.5" stroke="#ff0000" stroke-width="7.4" fill="none" clip-path="url(#cB)"/>
<path d="M1047.1 196L1083.5 196M1065.3 177.8L1065.3 214.2" stroke="#ff0000" stroke-width="7" fill="none"/>
<path d="M1084.6 254L1084.6 446.4M1077.2 254L1092 254M1077.2 446.4L1092 446.4" stroke="#ff0000" stroke-width="7.4" fill="none" clip-path="url(#cB)"/>
<path d="M1066.4 350.3L1102.8 350.3M1084.6 332.1L1084.6 368.5" stroke="#ff0000" stroke-width="7" fill="none"/>
<path d="M1105.8 395.3L1105.8 489.9M1098.4 395.3L1113.2 395.3M1098.4 489.9L1113.2 489.9" stroke="#ff0000" stroke-width="7.4" fill="none" clip-path="url(#cB)"/>
<path d="M1087.6 446.4L1124 446.4M1105.8 428.2L1105.8 464.6" stroke="#ff0000" stroke-width="7" fill="none"/>
<path d="M1132.5 452L1132.5 494M1125.1 452L1139.9 452M1125.1 494L1139.9 494" stroke="#ff0000" stroke-width="7.4" fill="none" clip-path="url(#cB)"/>
<path d="M1114.3 471L1150.7 471M1132.5 452.8L1132.5 489.2" stroke="#ff0000" stroke-width="7" fill="none"/>
<path d="M1162 455L1162 497M1154.6 455L1169.4 455M1154.6 497L1169.4 497" stroke="#ff0000" stroke-width="7.4" fill="none" clip-path="url(#cB)"/>
<path d="M1143.8 474L1180.2 474M1162 455.8L1162 492.2" stroke="#ff0000" stroke-width="7" fill="none"/>
<path d="M1199 458L1199 500M1191.6 458L1206.4 458M1191.6 500L1206.4 500" stroke="#ff0000" stroke-width="7.4" fill="none" clip-path="url(#cB)"/>
<path d="M1180.8 480L1217.2 480M1199 461.8L1199 498.2" stroke="#ff0000" stroke-width="7" fill="none"/>
<path d="M1245.8 446.5L1245.8 521M1238.4 446.5L1253.2 446.5M1238.4 521L1253.2 521" stroke="#ff0000" stroke-width="7.4" fill="none" clip-path="url(#cB)"/>
<path d="M1227.6 483.7L1264 483.7M1245.8 465.5L1245.8 501.9" stroke="#ff0000" stroke-width="7" fill="none"/>
<path d="M1312.5 446.5L1312.5 530.5M1305.1 446.5L1319.9 446.5M1305.1 530.5L1319.9 530.5" stroke="#ff0000" stroke-width="7.4" fill="none" clip-path="url(#cB)"/>
<path d="M1294.3 487L1330.7 487M1312.5 468.8L1312.5 505.2" stroke="#ff0000" stroke-width="7" fill="none"/>
<path d="M1425.1 433.4L1425.1 553.1M1417.7 433.4L1432.5 433.4M1417.7 553.1L1432.5 553.1" stroke="#ff0000" stroke-width="7.4" fill="none" clip-path="url(#cB)"/>
<path d="M1406.9 491.2L1443.3 491.2M1425.1 473L1425.1 509.4" stroke="#ff0000" stroke-width="7" fill="none"/>
<path d="M1573.2 453.5L1573.2 545.6M1565.8 453.5L1580.6 453.5M1565.8 545.6L1580.6 545.6" stroke="#ff0000" stroke-width="7.4" fill="none" clip-path="url(#cB)"/>
<path d="M1555 497.9L1591.4 497.9M1573.2 479.7L1573.2 516.1" stroke="#ff0000" stroke-width="7" fill="none"/>
<path d="M1684.4 480L1684.4 521.6M1677 480L1691.8 480M1677 521.6L1691.8 521.6" stroke="#ff0000" stroke-width="7.4" fill="none" clip-path="url(#cB)"/>
<path d="M1666.2 500.5L1702.6 500.5M1684.4 482.3L1684.4 518.7" stroke="#ff0000" stroke-width="7" fill="none"/>
<polyline points="1065.4,199 1086,208.4 1106.6,265.5 1132,374.9 1161.6,427.2 1198.7,449.5 1245.5,458.6 1312.2,467.4 1424.1,472.5 1571.1,472.5 1682.3,470" fill="none" stroke="#000000" stroke-width="7.4" stroke-linejoin="miter" stroke-linecap="butt" stroke-dasharray="28 30" stroke-dashoffset="57.09" clip-path="url(#cB)"/>
<path d="M1065.4 95L1065.4 274.5M1058 95L1072.8 95M1058 274.5L1072.8 274.5" stroke="#000000" stroke-width="7.4" fill="none" clip-path="url(#cB)"/>
<rect x="1050.9" y="184.5" width="29" height="29" fill="none" stroke="#000000" stroke-width="6.6"/>
<path d="M1086 100L1086 309.5M1078.6 100L1093.4 100M1078.6 309.5L1093.4 309.5" stroke="#000000" stroke-width="7.4" fill="none" clip-path="url(#cB)"/>
<rect x="1071.5" y="193.9" width="29" height="29" fill="none" stroke="#000000" stroke-width="6.6"/>
<path d="M1106.6 110L1106.6 403.2M1099.2 110L1114 110M1099.2 403.2L1114 403.2" stroke="#000000" stroke-width="7.4" fill="none" clip-path="url(#cB)"/>
<rect x="1092.1" y="251" width="29" height="29" fill="none" stroke="#000000" stroke-width="6.6"/>
<path d="M1132 231L1132 518.4M1124.6 231L1139.4 231M1124.6 518.4L1139.4 518.4" stroke="#000000" stroke-width="7.4" fill="none" clip-path="url(#cB)"/>
<rect x="1117.5" y="360.4" width="29" height="29" fill="none" stroke="#000000" stroke-width="6.6"/>
<path d="M1161.6 308.1L1161.6 547M1154.2 308.1L1169 308.1M1154.2 547L1169 547" stroke="#000000" stroke-width="7.4" fill="none" clip-path="url(#cB)"/>
<rect x="1147.1" y="412.7" width="29" height="29" fill="none" stroke="#000000" stroke-width="6.6"/>
<path d="M1198.7 347.1L1198.7 553.4M1191.3 347.1L1206.1 347.1M1191.3 553.4L1206.1 553.4" stroke="#000000" stroke-width="7.4" fill="none" clip-path="url(#cB)"/>
<rect x="1184.2" y="435" width="29" height="29" fill="none" stroke="#000000" stroke-width="6.6"/>
<path d="M1245.5 360.4L1245.5 557.6M1238.1 360.4L1252.9 360.4M1238.1 557.6L1252.9 557.6" stroke="#000000" stroke-width="7.4" fill="none" clip-path="url(#cB)"/>
<rect x="1231" y="444.1" width="29" height="29" fill="none" stroke="#000000" stroke-width="6.6"/>
<path d="M1312.2 371.8L1312.2 563.6M1304.8 371.8L1319.6 371.8M1304.8 563.6L1319.6 563.6" stroke="#000000" stroke-width="7.4" fill="none" clip-path="url(#cB)"/>
<rect x="1297.7" y="452.9" width="29" height="29" fill="none" stroke="#000000" stroke-width="6.6"/>
<path d="M1424.1 376.6L1424.1 568.3M1416.7 376.6L1431.5 376.6M1416.7 568.3L1431.5 568.3" stroke="#000000" stroke-width="7.4" fill="none" clip-path="url(#cB)"/>
<rect x="1409.6" y="458" width="29" height="29" fill="none" stroke="#000000" stroke-width="6.6"/>
<path d="M1571.1 374.1L1571.1 572.1M1563.7 374.1L1578.5 374.1M1563.7 572.1L1578.5 572.1" stroke="#000000" stroke-width="7.4" fill="none" clip-path="url(#cB)"/>
<rect x="1556.6" y="458" width="29" height="29" fill="none" stroke="#000000" stroke-width="6.6"/>
<path d="M1682.3 367.8L1682.3 572.1M1674.9 367.8L1689.7 367.8M1674.9 572.1L1689.7 572.1" stroke="#000000" stroke-width="7.4" fill="none" clip-path="url(#cB)"/>
<rect x="1667.8" y="455.5" width="29" height="29" fill="none" stroke="#000000" stroke-width="6.6"/>
<rect x="1238.5" y="463.6" width="453.5" height="72.7" fill="none" stroke="#000" stroke-width="1.1"/>
<line x1="1399.6" y1="337.6" x2="1384.17" y2="449.44" stroke="#000" stroke-width="1.1"/>
<path d="M1382.2 463.7 L1394.52 442.48 L1384.44 447.45 L1376.09 439.94 Z" fill="#000"/>
<rect x="1030.8" y="54.7" width="135.8" height="89.4" fill="#fff" stroke="#262626" stroke-width="1.5"/>
<line x1="1037.7" y1="71.9" x2="1109.9" y2="71.9" stroke="#0000ff" stroke-width="5"/>
<path d="M1074 61.5L1074 82.8M1066.9 61.5L1081.1 61.5M1066.9 82.8L1081.1 82.8" stroke="#0000ff" stroke-width="5" fill="none"/>
<ellipse cx="1074" cy="71.9" rx="6.6" ry="7.2" fill="#0000ff"/>
<polyline points="1037.7,100.3 1109.9,100.3" fill="none" stroke="#ff0000" stroke-width="5" stroke-linejoin="miter" stroke-linecap="butt" stroke-dasharray="14.2 4.3 6.4 4.3"/>
<path d="M1074 90.1L1074 110.5M1066.9 90.1L1081.1 90.1M1066.9 110.5L1081.1 110.5" stroke="#ff0000" stroke-width="5" fill="none"/>
<line x1="1066.9" y1="100.3" x2="1081.1" y2="100.3" stroke="#ff0000" stroke-width="5"/>
<line x1="1037.7" y1="128.2" x2="1051.9" y2="128.2" stroke="#000000" stroke-width="5"/>
<line x1="1095.7" y1="128.2" x2="1109.9" y2="128.2" stroke="#000000" stroke-width="5"/>
<rect x="1066.5" y="116.4" width="15" height="24.5" rx="2.5" fill="#000"/>
<text x="1116.7" y="80.3" font-family="'Liberation Sans', Arial, sans-serif" font-size="21.6" fill="#444444" text-anchor="start">UKF</text>
<text x="1116.7" y="108.1" font-family="'Liberation Sans', Arial, sans-serif" font-size="21.6" fill="#444444" text-anchor="start">EKF</text>
<text x="1116.7" y="136" font-family="'Liberation Sans', Arial, sans-serif" font-size="21.6" fill="#444444" text-anchor="start">Ref</text>
<rect x="1353.5" y="51" width="373.6" height="278.2" fill="#fff"/>
<g clip-path="url(#cIB)">
<polyline points="1360.2,212.2 1415,225.1 1506.9,232 1627.1,233.2 1717.9,228.4 1800,226" fill="none" stroke="#000000" stroke-width="7.4" stroke-linejoin="miter" stroke-linecap="butt" stroke-dasharray="28 30" stroke-dashoffset="17.68"/>
</g>
<path d="M1360.2 61.8L1360.2 400M1352.8 61.8L1367.6 61.8M1352.8 400L1367.6 400" stroke="#000000" stroke-width="7.4" fill="none" clip-path="url(#cIB)"/>
<rect x="1345.7" y="197.7" width="29" height="29" fill="none" stroke="#000000" stroke-width="6.6"/>
<path d="M1415 78.8L1415 400M1407.6 78.8L1422.4 78.8M1407.6 400L1422.4 400" stroke="#000000" stroke-width="7.4" fill="none" clip-path="url(#cIB)"/>
<rect x="1400.5" y="210.6" width="29" height="29" fill="none" stroke="#000000" stroke-width="6.6"/>
<path d="M1506.9 86.5L1506.9 400M1499.5 86.5L1514.3 86.5M1499.5 400L1514.3 400" stroke="#000000" stroke-width="7.4" fill="none" clip-path="url(#cIB)"/>
<rect x="1492.4" y="217.5" width="29" height="29" fill="none" stroke="#000000" stroke-width="6.6"/>
<path d="M1627.1 83.2L1627.1 400M1619.7 83.2L1634.5 83.2M1619.7 400L1634.5 400" stroke="#000000" stroke-width="7.4" fill="none" clip-path="url(#cIB)"/>
<rect x="1612.6" y="218.7" width="29" height="29" fill="none" stroke="#000000" stroke-width="6.6"/>
<path d="M1717.9 72.9L1717.9 400M1710.5 72.9L1725.3 72.9M1710.5 400L1725.3 400" stroke="#000000" stroke-width="7.4" fill="none" clip-path="url(#cIB)"/>
<rect x="1703.4" y="213.9" width="29" height="29" fill="none" stroke="#000000" stroke-width="6.6"/>
<g clip-path="url(#cIB)">
<polyline points="1321.5,250 1360.2,253 1415,257 1506.9,264 1627.6,274.6 1717.9,277.2 1760,279" fill="none" stroke="#ff0000" stroke-width="7.4" stroke-linejoin="miter" stroke-linecap="butt" stroke-dasharray="29 7.4 14.3 7.4" stroke-dashoffset="29.28"/>
</g>
<path d="M1360.2 213.3L1360.2 290.6M1352.8 213.3L1367.6 213.3M1352.8 290.6L1367.6 290.6" stroke="#ff0000" stroke-width="7.4" fill="none" clip-path="url(#cIB)"/>
<path d="M1415 196.1L1415 319.7M1407.6 196.1L1422.4 196.1M1407.6 319.7L1422.4 319.7" stroke="#ff0000" stroke-width="7.4" fill="none" clip-path="url(#cIB)"/>
<path d="M1506.9 173.4L1506.9 340M1499.5 173.4L1514.3 173.4M1499.5 340L1514.3 340" stroke="#ff0000" stroke-width="7.4" fill="none" clip-path="url(#cIB)"/>
<path d="M1627.6 205.8L1627.6 340M1620.2 205.8L1635 205.8M1620.2 340L1635 340" stroke="#ff0000" stroke-width="7.4" fill="none" clip-path="url(#cIB)"/>
<path d="M1717.9 250.9L1717.9 307.3M1710.5 250.9L1725.3 250.9M1710.5 307.3L1725.3 307.3" stroke="#ff0000" stroke-width="7.4" fill="none" clip-path="url(#cIB)"/>
<polyline points="1360.2,277.2 1415,277.2 1506.9,279.2 1630.3,282.6 1721.3,282.6" fill="none" stroke="#0000ff" stroke-width="7.4" stroke-linejoin="miter" stroke-linecap="butt" clip-path="url(#cIB)"/>
<path d="M1360.2 227.3L1360.2 326.6M1352.8 227.3L1367.6 227.3M1352.8 326.6L1367.6 326.6" stroke="#0000ff" stroke-width="7.4" fill="none" clip-path="url(#cIB)"/>
<path d="M1347.6 264.6L1372.8 289.8M1347.6 289.8L1372.8 264.6" stroke="#0000ff" stroke-width="7" fill="none"/>
<path d="M1415 227.8L1415 326.6M1407.6 227.8L1422.4 227.8M1407.6 326.6L1422.4 326.6" stroke="#0000ff" stroke-width="7.4" fill="none" clip-path="url(#cIB)"/>
<path d="M1402.4 264.6L1427.6 289.8M1402.4 289.8L1427.6 264.6" stroke="#0000ff" stroke-width="7" fill="none"/>
<path d="M1506.9 241.5L1506.9 317.8M1499.5 241.5L1514.3 241.5M1499.5 317.8L1514.3 317.8" stroke="#0000ff" stroke-width="7.4" fill="none" clip-path="url(#cIB)"/>
<path d="M1494.3 266.6L1519.5 291.8M1494.3 291.8L1519.5 266.6" stroke="#0000ff" stroke-width="7" fill="none"/>
<path d="M1630.3 266L1630.3 299.3M1622.9 266L1637.7 266M1622.9 299.3L1637.7 299.3" stroke="#0000ff" stroke-width="7.4" fill="none" clip-path="url(#cIB)"/>
<path d="M1617.7 270L1642.9 295.2M1617.7 295.2L1642.9 270" stroke="#0000ff" stroke-width="7" fill="none"/>
<path d="M1721.3 266L1721.3 299.3M1713.9 266L1728.7 266M1713.9 299.3L1728.7 299.3" stroke="#0000ff" stroke-width="7.4" fill="none" clip-path="url(#cIB)"/>
<path d="M1708.7 270L1733.9 295.2M1708.7 295.2L1733.9 270" stroke="#0000ff" stroke-width="7" fill="none"/>
<rect x="1353.5" y="51" width="373.6" height="278.2" fill="none" stroke="#262626" stroke-width="1.3"/>
<line x1="1508.7" y1="329.2" x2="1508.7" y2="323.7" stroke="#262626" stroke-width="1.3"/>
<line x1="1508.7" y1="51" x2="1508.7" y2="56.5" stroke="#262626" stroke-width="1.3"/>
<line x1="1663.9" y1="329.2" x2="1663.9" y2="323.7" stroke="#262626" stroke-width="1.3"/>
<line x1="1663.9" y1="51" x2="1663.9" y2="56.5" stroke="#262626" stroke-width="1.3"/>
<line x1="1353.5" y1="295.9" x2="1359" y2="295.9" stroke="#262626" stroke-width="1.3"/>
<line x1="1727.1" y1="295.9" x2="1721.6" y2="295.9" stroke="#262626" stroke-width="1.3"/>
<line x1="1353.5" y1="234.7" x2="1359" y2="234.7" stroke="#262626" stroke-width="1.3"/>
<line x1="1727.1" y1="234.7" x2="1721.6" y2="234.7" stroke="#262626" stroke-width="1.3"/>
<line x1="1353.5" y1="173.5" x2="1359" y2="173.5" stroke="#262626" stroke-width="1.3"/>
<line x1="1727.1" y1="173.5" x2="1721.6" y2="173.5" stroke="#262626" stroke-width="1.3"/>
<line x1="1353.5" y1="112.3" x2="1359" y2="112.3" stroke="#262626" stroke-width="1.3"/>
<line x1="1727.1" y1="112.3" x2="1721.6" y2="112.3" stroke="#262626" stroke-width="1.3"/>
<line x1="1353.5" y1="51.1" x2="1359" y2="51.1" stroke="#262626" stroke-width="1.3"/>
<line x1="1727.1" y1="51.1" x2="1721.6" y2="51.1" stroke="#262626" stroke-width="1.3"/>
<text x="1352.5" y="358.7" font-family="'Liberation Sans', Arial, sans-serif" font-size="22.5" fill="#444444" text-anchor="middle">10</text>
<text x="1507.7" y="358.7" font-family="'Liberation Sans', Arial, sans-serif" font-size="22.5" fill="#444444" text-anchor="middle">15</text>
<text x="1662.9" y="358.7" font-family="'Liberation Sans', Arial, sans-serif" font-size="22.5" fill="#444444" text-anchor="middle">20</text>
<text x="1342.5" y="303.95" font-family="'Liberation Sans', Arial, sans-serif" font-size="22.5" fill="#444444" text-anchor="end">0</text>
<text x="1342.5" y="242.75" font-family="'Liberation Sans', Arial, sans-serif" font-size="22.5" fill="#444444" text-anchor="end">50</text>
<text x="1342.5" y="181.56" font-family="'Liberation Sans', Arial, sans-serif" font-size="22.5" fill="#444444" text-anchor="end">100</text>
<text x="1342.5" y="120.35" font-family="'Liberation Sans', Arial, sans-serif" font-size="22.5" fill="#444444" text-anchor="end">150</text>
<text x="1342.5" y="59.15" font-family="'Liberation Sans', Arial, sans-serif" font-size="22.5" fill="#444444" text-anchor="end">200</text>
<text x="1353.6" y="47.5" font-family="'Liberation Sans', Arial, sans-serif" font-size="25.5" fill="#6a6a6a" text-anchor="start">×</text>
<text x="1372" y="44.5" font-family="'Liberation Sans', Arial, sans-serif" font-size="22.5" fill="#444444" text-anchor="start">10</text>
<text x="1401.5" y="33.8" font-family="'Liberation Sans', Arial, sans-serif" font-size="17.5" fill="#444444" text-anchor="start">-3</text>
<text x="954.3" y="659.5" font-family="'Liberation Serif', 'Times New Roman', serif" font-size="32.5" fill="#000" text-anchor="start">(b)</text>
<text x="1285" y="661.1" font-family="'Liberation Sans', Arial, sans-serif" font-size="26.4" fill="#444444">SNR<tspan font-size="21" dy="14.2">pilot</tspan></text>
<text x="1397.4" y="661.1" font-family="'Liberation Sans', Arial, sans-serif" font-size="26.4" fill="#444444" text-anchor="start">[dB]</text>
<text x="0" y="0" transform="translate(931.1,309.3) rotate(-90)" font-family="'Liberation Sans', Arial, sans-serif" font-size="29" font-style="italic" fill="#444444" text-anchor="middle">e</text>
<text x="1011.8" y="30" font-family="'Liberation Sans', Arial, sans-serif" font-size="27" fill="#6a6a6a" text-anchor="start">×</text>
<text x="1030.2" y="26.6" font-family="'Liberation Sans', Arial, sans-serif" font-size="25" fill="#444444" text-anchor="start">10</text>
<text x="1059.8" y="16" font-family="'Liberation Sans', Arial, sans-serif" font-size="20.5" fill="#444444" text-anchor="start">-3</text>
<line x1="165.6" y1="794.5" x2="165.6" y2="1353" stroke="#dfdfdf" stroke-width="1.2"/>
<line x1="296.6" y1="794.5" x2="296.6" y2="1353" stroke="#dfdfdf" stroke-width="1.2"/>
<line x1="427.6" y1="794.5" x2="427.6" y2="1353" stroke="#dfdfdf" stroke-width="1.2"/>
<line x1="558.6" y1="794.5" x2="558.6" y2="1353" stroke="#dfdfdf" stroke-width="1.2"/>
<line x1="689.6" y1="794.5" x2="689.6" y2="1353" stroke="#dfdfdf" stroke-width="1.2"/>
<line x1="820.6" y1="794.5" x2="820.6" y2="1353" stroke="#dfdfdf" stroke-width="1.2"/>
<line x1="99.6" y1="1353.05" x2="821" y2="1353.05" stroke="#dfdfdf" stroke-width="1.2"/>
<line x1="99.6" y1="1273.32" x2="821" y2="1273.32" stroke="#dfdfdf" stroke-width="1.2"/>
<line x1="99.6" y1="1193.59" x2="821" y2="1193.59" stroke="#dfdfdf" stroke-width="1.2"/>
<line x1="99.6" y1="1113.86" x2="821" y2="1113.86" stroke="#dfdfdf" stroke-width="1.2"/>
<line x1="99.6" y1="1034.13" x2="821" y2="1034.13" stroke="#dfdfdf" stroke-width="1.2"/>
<line x1="99.6" y1="954.4" x2="821" y2="954.4" stroke="#dfdfdf" stroke-width="1.2"/>
<line x1="99.6" y1="874.67" x2="821" y2="874.67" stroke="#dfdfdf" stroke-width="1.2"/>
<line x1="99.6" y1="793.9" x2="99.6" y2="1353.8" stroke="#262626" stroke-width="1.6"/>
<line x1="98.8" y1="1353" x2="821.5" y2="1353" stroke="#262626" stroke-width="1.6"/>
<line x1="165.6" y1="1353" x2="165.6" y2="1345.5" stroke="#262626" stroke-width="1.6"/>
<line x1="296.6" y1="1353" x2="296.6" y2="1345.5" stroke="#262626" stroke-width="1.6"/>
<line x1="427.6" y1="1353" x2="427.6" y2="1345.5" stroke="#262626" stroke-width="1.6"/>
<line x1="558.6" y1="1353" x2="558.6" y2="1345.5" stroke="#262626" stroke-width="1.6"/>
<line x1="689.6" y1="1353" x2="689.6" y2="1345.5" stroke="#262626" stroke-width="1.6"/>
<line x1="820.6" y1="1353" x2="820.6" y2="1345.5" stroke="#262626" stroke-width="1.6"/>
<line x1="99.6" y1="1353.05" x2="107.1" y2="1353.05" stroke="#262626" stroke-width="1.6"/>
<line x1="99.6" y1="1273.32" x2="107.1" y2="1273.32" stroke="#262626" stroke-width="1.6"/>
<line x1="99.6" y1="1193.59" x2="107.1" y2="1193.59" stroke="#262626" stroke-width="1.6"/>
<line x1="99.6" y1="1113.86" x2="107.1" y2="1113.86" stroke="#262626" stroke-width="1.6"/>
<line x1="99.6" y1="1034.13" x2="107.1" y2="1034.13" stroke="#262626" stroke-width="1.6"/>
<line x1="99.6" y1="954.4" x2="107.1" y2="954.4" stroke="#262626" stroke-width="1.6"/>
<line x1="99.6" y1="874.67" x2="107.1" y2="874.67" stroke="#262626" stroke-width="1.6"/>
<polyline points="109.27,896.8 138.09,887.9 174.11,886.8 215.38,886.2 267.12,886.2 297.91,886.2 331.31,886.2 368.65,886.2 413.19,886.2 466.25,886.2 529.12,886.2 608.38,886.2 724.97,886.4 918.85,887.6" fill="none" stroke="#0000ff" stroke-width="9" stroke-linejoin="miter" stroke-linecap="butt" clip-path="url(#cC)"/>
<path d="M99.47 887L119.07 906.6M99.47 906.6L119.07 887" stroke="#0000ff" stroke-width="9" fill="none"/>
<path d="M128.29 878.1L147.89 897.7M128.29 897.7L147.89 878.1" stroke="#0000ff" stroke-width="9" fill="none"/>
<path d="M164.31 877L183.91 896.6M164.31 896.6L183.91 877" stroke="#0000ff" stroke-width="9" fill="none"/>
<path d="M205.58 876.4L225.18 896M205.58 896L225.18 876.4" stroke="#0000ff" stroke-width="9" fill="none"/>
<path d="M257.32 876.4L276.93 896M257.32 896L276.93 876.4" stroke="#0000ff" stroke-width="9" fill="none"/>
<path d="M288.11 876.4L307.71 896M288.11 896L307.71 876.4" stroke="#0000ff" stroke-width="9" fill="none"/>
<path d="M321.51 876.4L341.12 896M321.51 896L341.12 876.4" stroke="#0000ff" stroke-width="9" fill="none"/>
<path d="M358.85 876.4L378.45 896M358.85 896L378.45 876.4" stroke="#0000ff" stroke-width="9" fill="none"/>
<path d="M403.39 876.4L422.99 896M403.39 896L422.99 876.4" stroke="#0000ff" stroke-width="9" fill="none"/>
<path d="M456.44 876.4L476.05 896M456.44 896L476.05 876.4" stroke="#0000ff" stroke-width="9" fill="none"/>
<path d="M519.33 876.4L538.92 896M519.33 896L538.92 876.4" stroke="#0000ff" stroke-width="9" fill="none"/>
<path d="M598.58 876.4L618.18 896M598.58 896L618.18 876.4" stroke="#0000ff" stroke-width="9" fill="none"/>
<path d="M715.17 876.6L734.77 896.2M715.17 896.2L734.77 876.6" stroke="#0000ff" stroke-width="9" fill="none"/>
<polyline points="267.12,1491 297.91,1181 331.31,978.3 368.65,897.7 413.19,880.3 466.25,879.2 529.12,879.2 608.38,879.2 724.97,879.2 918.85,879.2" fill="none" stroke="#ff0000" stroke-width="9" stroke-linejoin="miter" stroke-linecap="butt" stroke-dasharray="35.8 9.7 17.9 9.7" stroke-dashoffset="71.17" clip-path="url(#cC)"/>
<path d="M288.11 1171.2L307.71 1190.8M288.11 1190.8L307.71 1171.2" stroke="#ff0000" stroke-width="9" fill="none"/>
<path d="M321.51 968.5L341.12 988.1M321.51 988.1L341.12 968.5" stroke="#ff0000" stroke-width="9" fill="none"/>
<path d="M358.85 887.9L378.45 907.5M358.85 907.5L378.45 887.9" stroke="#ff0000" stroke-width="9" fill="none"/>
<path d="M403.39 870.5L422.99 890.1M403.39 890.1L422.99 870.5" stroke="#ff0000" stroke-width="9" fill="none"/>
<path d="M456.44 869.4L476.05 889M456.44 889L476.05 869.4" stroke="#ff0000" stroke-width="9" fill="none"/>
<path d="M519.33 869.4L538.92 889M519.33 889L538.92 869.4" stroke="#ff0000" stroke-width="9" fill="none"/>
<path d="M598.58 869.4L618.18 889M598.58 889L618.18 869.4" stroke="#ff0000" stroke-width="9" fill="none"/>
<path d="M715.17 869.4L734.77 889M715.17 889L734.77 869.4" stroke="#ff0000" stroke-width="9" fill="none"/>
<polyline points="331.31,1530 368.65,1300.6 413.19,1127.8 466.25,1086.3 529.12,1043.1 608.38,1029.8 724.97,991.6 918.85,980.3" fill="none" stroke="#000000" stroke-width="9" stroke-linejoin="miter" stroke-linecap="butt" stroke-dasharray="35.5 36.2" stroke-dashoffset="43" clip-path="url(#cC)"/>
<path d="M358.85 1290.8L378.45 1310.4M358.85 1310.4L378.45 1290.8" stroke="#000000" stroke-width="9" fill="none"/>
<path d="M403.39 1118L422.99 1137.6M403.39 1137.6L422.99 1118" stroke="#000000" stroke-width="9" fill="none"/>
<path d="M456.44 1076.5L476.05 1096.1M456.44 1096.1L476.05 1076.5" stroke="#000000" stroke-width="9" fill="none"/>
<path d="M519.33 1033.3L538.92 1052.9M519.33 1052.9L538.92 1033.3" stroke="#000000" stroke-width="9" fill="none"/>
<path d="M598.58 1020L618.18 1039.6M598.58 1039.6L618.18 1020" stroke="#000000" stroke-width="9" fill="none"/>
<path d="M715.17 981.8L734.77 1001.4M715.17 1001.4L734.77 981.8" stroke="#000000" stroke-width="9" fill="none"/>
<rect x="99.6" y="794.5" width="721.4" height="159.9" fill="#36ff36" fill-opacity="0.3"/>
<rect x="99.6" y="954.4" width="721.4" height="398.6" fill="#ff3636" fill-opacity="0.3"/>
<line x1="99.6" y1="794.5" x2="821" y2="794.5" stroke="#66ff5e" stroke-width="2"/>
<line x1="99.6" y1="1353" x2="821" y2="1353" stroke="#ff6868" stroke-width="2"/>
<line x1="99.6" y1="954.4" x2="821" y2="954.4" stroke="#66ff5e" stroke-width="2"/>
<text x="163.6" y="1388.6" font-family="'Liberation Sans', Arial, sans-serif" font-size="25" fill="#444444" text-anchor="middle">4</text>
<text x="294.6" y="1388.6" font-family="'Liberation Sans', Arial, sans-serif" font-size="25" fill="#444444" text-anchor="middle">6</text>
<text x="425.6" y="1388.6" font-family="'Liberation Sans', Arial, sans-serif" font-size="25" fill="#444444" text-anchor="middle">8</text>
<text x="556.6" y="1388.6" font-family="'Liberation Sans', Arial, sans-serif" font-size="25" fill="#444444" text-anchor="middle">10</text>
<text x="687.6" y="1388.6" font-family="'Liberation Sans', Arial, sans-serif" font-size="25" fill="#444444" text-anchor="middle">12</text>
<text x="818.6" y="1388.6" font-family="'Liberation Sans', Arial, sans-serif" font-size="25" fill="#444444" text-anchor="middle">14</text>
<text x="83.7" y="1362.8" font-family="'Liberation Sans', Arial, sans-serif" font-size="25" fill="#444444" text-anchor="end">-0.5</text>
<text x="83.7" y="1283.07" font-family="'Liberation Sans', Arial, sans-serif" font-size="25" fill="#444444" text-anchor="end">-0.4</text>
<text x="83.7" y="1203.34" font-family="'Liberation Sans', Arial, sans-serif" font-size="25" fill="#444444" text-anchor="end">-0.3</text>
<text x="83.7" y="1123.61" font-family="'Liberation Sans', Arial, sans-serif" font-size="25" fill="#444444" text-anchor="end">-0.2</text>
<text x="83.7" y="1043.88" font-family="'Liberation Sans', Arial, sans-serif" font-size="25" fill="#444444" text-anchor="end">-0.1</text>
<text x="83.7" y="964.15" font-family="'Liberation Sans', Arial, sans-serif" font-size="25" fill="#444444" text-anchor="end">0</text>
<text x="83.7" y="884.42" font-family="'Liberation Sans', Arial, sans-serif" font-size="25" fill="#444444" text-anchor="end">0.1</text>
<rect x="662.1" y="1028.4" width="136.3" height="90.1" fill="#fff" stroke="#262626" stroke-width="1.4"/>
<line x1="669.7" y1="1044.8" x2="741.8" y2="1044.8" stroke="#0000ff" stroke-width="9"/>
<path d="M695.9 1035L715.5 1054.6M695.9 1054.6L715.5 1035" stroke="#0000ff" stroke-width="9.5" fill="none"/>
<line x1="669.7" y1="1072.9" x2="732.2" y2="1072.9" stroke="#ff0000" stroke-width="9"/>
<path d="M695.9 1063.1L715.5 1082.7M695.9 1082.7L715.5 1063.1" stroke="#ff0000" stroke-width="9.5" fill="none"/>
<line x1="669.7" y1="1101" x2="705.7" y2="1101" stroke="#000000" stroke-width="9"/>
<path d="M695.9 1091.2L715.5 1110.8M695.9 1110.8L715.5 1091.2" stroke="#000000" stroke-width="9.5" fill="none"/>
<text x="748.7" y="1052.7" font-family="'Liberation Sans', Arial, sans-serif" font-size="21.6" fill="#444444" text-anchor="start">UKF</text>
<text x="748.7" y="1080.8" font-family="'Liberation Sans', Arial, sans-serif" font-size="21.6" fill="#444444" text-anchor="start">EKF</text>
<text x="748.7" y="1108.9" font-family="'Liberation Sans', Arial, sans-serif" font-size="21.6" fill="#444444" text-anchor="start">Ref</text>
<text x="35" y="1426" font-family="'Liberation Serif', 'Times New Roman', serif" font-size="32.5" fill="#000" text-anchor="start">(c)</text>
<text x="375.5" y="1421.6" font-family="'Liberation Sans', Arial, sans-serif" font-size="26.4" fill="#444444">SNR<tspan font-size="21" dy="14.2">pilot</tspan></text>
<text x="487.9" y="1421.6" font-family="'Liberation Sans', Arial, sans-serif" font-size="26.4" fill="#444444" text-anchor="start">[dB]</text>
<text x="0" y="0" transform="translate(27.7,1105.6) rotate(-90)" font-family="'Liberation Sans', Arial, sans-serif" font-size="27.2" fill="#444444" text-anchor="middle">Secret key rate [bits/symbol]</text>
<line x1="1054.8" y1="794.3" x2="1054.8" y2="1354.4" stroke="#dfdfdf" stroke-width="1.2"/>
<line x1="1139.34" y1="794.3" x2="1139.34" y2="1354.4" stroke="#dfdfdf" stroke-width="1.2"/>
<line x1="1223.88" y1="794.3" x2="1223.88" y2="1354.4" stroke="#dfdfdf" stroke-width="1.2"/>
<line x1="1308.42" y1="794.3" x2="1308.42" y2="1354.4" stroke="#dfdfdf" stroke-width="1.2"/>
<line x1="1392.96" y1="794.3" x2="1392.96" y2="1354.4" stroke="#dfdfdf" stroke-width="1.2"/>
<line x1="1477.5" y1="794.3" x2="1477.5" y2="1354.4" stroke="#dfdfdf" stroke-width="1.2"/>
<line x1="1562.04" y1="794.3" x2="1562.04" y2="1354.4" stroke="#dfdfdf" stroke-width="1.2"/>
<line x1="1646.58" y1="794.3" x2="1646.58" y2="1354.4" stroke="#dfdfdf" stroke-width="1.2"/>
<line x1="1731.12" y1="794.3" x2="1731.12" y2="1354.4" stroke="#dfdfdf" stroke-width="1.2"/>
<line x1="1012.7" y1="1354.38" x2="1734.4" y2="1354.38" stroke="#dfdfdf" stroke-width="1.2"/>
<line x1="1012.7" y1="1298.37" x2="1734.4" y2="1298.37" stroke="#dfdfdf" stroke-width="1.2"/>
<line x1="1012.7" y1="1242.36" x2="1734.4" y2="1242.36" stroke="#dfdfdf" stroke-width="1.2"/>
<line x1="1012.7" y1="1186.35" x2="1734.4" y2="1186.35" stroke="#dfdfdf" stroke-width="1.2"/>
<line x1="1012.7" y1="1130.34" x2="1734.4" y2="1130.34" stroke="#dfdfdf" stroke-width="1.2"/>
<line x1="1012.7" y1="1074.33" x2="1734.4" y2="1074.33" stroke="#dfdfdf" stroke-width="1.2"/>
<line x1="1012.7" y1="1018.32" x2="1734.4" y2="1018.32" stroke="#dfdfdf" stroke-width="1.2"/>
<line x1="1012.7" y1="962.31" x2="1734.4" y2="962.31" stroke="#dfdfdf" stroke-width="1.2"/>
<line x1="1012.7" y1="906.3" x2="1734.4" y2="906.3" stroke="#dfdfdf" stroke-width="1.2"/>
<line x1="1012.7" y1="850.29" x2="1734.4" y2="850.29" stroke="#dfdfdf" stroke-width="1.2"/>
<line x1="1012.7" y1="794.28" x2="1734.4" y2="794.28" stroke="#dfdfdf" stroke-width="1.2"/>
<line x1="1012.7" y1="793.7" x2="1012.7" y2="1355.2" stroke="#262626" stroke-width="1.6"/>
<line x1="1011.9" y1="1354.4" x2="1734.9" y2="1354.4" stroke="#262626" stroke-width="1.6"/>
<line x1="1054.8" y1="1354.4" x2="1054.8" y2="1346.9" stroke="#262626" stroke-width="1.6"/>
<line x1="1139.34" y1="1354.4" x2="1139.34" y2="1346.9" stroke="#262626" stroke-width="1.6"/>
<line x1="1223.88" y1="1354.4" x2="1223.88" y2="1346.9" stroke="#262626" stroke-width="1.6"/>
<line x1="1308.42" y1="1354.4" x2="1308.42" y2="1346.9" stroke="#262626" stroke-width="1.6"/>
<line x1="1392.96" y1="1354.4" x2="1392.96" y2="1346.9" stroke="#262626" stroke-width="1.6"/>
<line x1="1477.5" y1="1354.4" x2="1477.5" y2="1346.9" stroke="#262626" stroke-width="1.6"/>
<line x1="1562.04" y1="1354.4" x2="1562.04" y2="1346.9" stroke="#262626" stroke-width="1.6"/>
<line x1="1646.58" y1="1354.4" x2="1646.58" y2="1346.9" stroke="#262626" stroke-width="1.6"/>
<line x1="1731.12" y1="1354.4" x2="1731.12" y2="1346.9" stroke="#262626" stroke-width="1.6"/>
<line x1="1012.7" y1="1354.38" x2="1020.2" y2="1354.38" stroke="#262626" stroke-width="1.6"/>
<line x1="1012.7" y1="1298.37" x2="1020.2" y2="1298.37" stroke="#262626" stroke-width="1.6"/>
<line x1="1012.7" y1="1242.36" x2="1020.2" y2="1242.36" stroke="#262626" stroke-width="1.6"/>
<line x1="1012.7" y1="1186.35" x2="1020.2" y2="1186.35" stroke="#262626" stroke-width="1.6"/>
<line x1="1012.7" y1="1130.34" x2="1020.2" y2="1130.34" stroke="#262626" stroke-width="1.6"/>
<line x1="1012.7" y1="1074.33" x2="1020.2" y2="1074.33" stroke="#262626" stroke-width="1.6"/>
<line x1="1012.7" y1="1018.32" x2="1020.2" y2="1018.32" stroke="#262626" stroke-width="1.6"/>
<line x1="1012.7" y1="962.31" x2="1020.2" y2="962.31" stroke="#262626" stroke-width="1.6"/>
<line x1="1012.7" y1="906.3" x2="1020.2" y2="906.3" stroke="#262626" stroke-width="1.6"/>
<line x1="1012.7" y1="850.29" x2="1020.2" y2="850.29" stroke="#262626" stroke-width="1.6"/>
<line x1="1012.7" y1="794.28" x2="1020.2" y2="794.28" stroke="#262626" stroke-width="1.6"/>
<polyline points="1031.7,1346 1053,1195.8 1077.5,1028.8 1105.8,946 1140.2,927.9 1181,918.8 1233.2,913.4 1307.3,912.3 1433.3,903.9 1602.3,891 1726.2,891" fill="none" stroke="#0000ff" stroke-width="9" stroke-linejoin="miter" stroke-linecap="butt" clip-path="url(#cD)"/>
<path d="M1021.9 1336.2L1041.5 1355.8M1021.9 1355.8L1041.5 1336.2" stroke="#0000ff" stroke-width="9" fill="none"/>
<path d="M1043.2 1186L1062.8 1205.6M1043.2 1205.6L1062.8 1186" stroke="#0000ff" stroke-width="9" fill="none"/>
<path d="M1067.7 1019L1087.3 1038.6M1067.7 1038.6L1087.3 1019" stroke="#0000ff" stroke-width="9" fill="none"/>
<path d="M1096 936.2L1115.6 955.8M1096 955.8L1115.6 936.2" stroke="#0000ff" stroke-width="9" fill="none"/>
<path d="M1130.4 918.1L1150 937.7M1130.4 937.7L1150 918.1" stroke="#0000ff" stroke-width="9" fill="none"/>
<path d="M1171.2 909L1190.8 928.6M1171.2 928.6L1190.8 909" stroke="#0000ff" stroke-width="9" fill="none"/>
<path d="M1223.4 903.6L1243 923.2M1223.4 923.2L1243 903.6" stroke="#0000ff" stroke-width="9" fill="none"/>
<path d="M1297.5 902.5L1317.1 922.1M1297.5 922.1L1317.1 902.5" stroke="#0000ff" stroke-width="9" fill="none"/>
<path d="M1423.5 894.1L1443.1 913.7M1423.5 913.7L1443.1 894.1" stroke="#0000ff" stroke-width="9" fill="none"/>
<path d="M1592.5 881.2L1612.1 900.8M1592.5 900.8L1612.1 881.2" stroke="#0000ff" stroke-width="9" fill="none"/>
<path d="M1716.4 881.2L1736 900.8M1716.4 900.8L1736 881.2" stroke="#0000ff" stroke-width="9" fill="none"/>
<polyline points="1030.5,1440 1053.5,1236.2 1077.5,1076.7 1105.8,1009.2 1140.2,990.2 1181,979.8 1233.2,970 1307.3,961.3 1433.3,945.8 1598.6,917.5 1723,904.3" fill="none" stroke="#ff0000" stroke-width="9" stroke-linejoin="miter" stroke-linecap="butt" stroke-dasharray="35.8 9.7 17.9 9.7" stroke-dashoffset="49.5" clip-path="url(#cD)"/>
<path d="M1043.7 1226.4L1063.3 1246M1043.7 1246L1063.3 1226.4" stroke="#ff0000" stroke-width="9" fill="none"/>
<path d="M1067.7 1066.9L1087.3 1086.5M1067.7 1086.5L1087.3 1066.9" stroke="#ff0000" stroke-width="9" fill="none"/>
<path d="M1096 999.4L1115.6 1019M1096 1019L1115.6 999.4" stroke="#ff0000" stroke-width="9" fill="none"/>
<path d="M1130.4 980.4L1150 1000M1130.4 1000L1150 980.4" stroke="#ff0000" stroke-width="9" fill="none"/>
<path d="M1171.2 970L1190.8 989.6M1171.2 989.6L1190.8 970" stroke="#ff0000" stroke-width="9" fill="none"/>
<path d="M1223.4 960.2L1243 979.8M1223.4 979.8L1243 960.2" stroke="#ff0000" stroke-width="9" fill="none"/>
<path d="M1297.5 951.5L1317.1 971.1M1297.5 971.1L1317.1 951.5" stroke="#ff0000" stroke-width="9" fill="none"/>
<path d="M1423.5 936L1443.1 955.6M1423.5 955.6L1443.1 936" stroke="#ff0000" stroke-width="9" fill="none"/>
<path d="M1588.8 907.7L1608.4 927.3M1588.8 927.3L1608.4 907.7" stroke="#ff0000" stroke-width="9" fill="none"/>
<path d="M1713.2 894.5L1732.8 914.1M1713.2 914.1L1732.8 894.5" stroke="#ff0000" stroke-width="9" fill="none"/>
<polyline points="1077.5,1374 1106.5,1242.1 1140.2,1141 1179.9,1086.5 1233.2,1064.7 1307.3,1040.7 1433.3,1028.4 1597.5,1027.3 1719.9,1037.8" fill="none" stroke="#000000" stroke-width="9" stroke-linejoin="miter" stroke-linecap="butt" stroke-dasharray="35.5 36.2" stroke-dashoffset="22.88" clip-path="url(#cD)"/>
<path d="M1096.7 1232.3L1116.3 1251.9M1096.7 1251.9L1116.3 1232.3" stroke="#000000" stroke-width="9" fill="none"/>
<path d="M1130.4 1131.2L1150 1150.8M1130.4 1150.8L1150 1131.2" stroke="#000000" stroke-width="9" fill="none"/>
<path d="M1170.1 1076.7L1189.7 1096.3M1170.1 1096.3L1189.7 1076.7" stroke="#000000" stroke-width="9" fill="none"/>
<path d="M1223.4 1054.9L1243 1074.5M1223.4 1074.5L1243 1054.9" stroke="#000000" stroke-width="9" fill="none"/>
<path d="M1297.5 1030.9L1317.1 1050.5M1297.5 1050.5L1317.1 1030.9" stroke="#000000" stroke-width="9" fill="none"/>
<path d="M1423.5 1018.6L1443.1 1038.2M1423.5 1038.2L1443.1 1018.6" stroke="#000000" stroke-width="9" fill="none"/>
<path d="M1587.7 1017.5L1607.3 1037.1M1587.7 1037.1L1607.3 1017.5" stroke="#000000" stroke-width="9" fill="none"/>
<path d="M1710.1 1028L1729.7 1047.6M1710.1 1047.6L1729.7 1028" stroke="#000000" stroke-width="9" fill="none"/>
<rect x="1012.7" y="794.3" width="721.7" height="112" fill="#36ff36" fill-opacity="0.3"/>
<rect x="1012.7" y="906.3" width="721.7" height="448.1" fill="#ff3636" fill-opacity="0.3"/>
<line x1="1012.7" y1="794.3" x2="1734.4" y2="794.3" stroke="#66ff5e" stroke-width="2"/>
<line x1="1012.7" y1="1354.4" x2="1734.4" y2="1354.4" stroke="#ff6868" stroke-width="2"/>
<line x1="1012.7" y1="906.3" x2="1734.4" y2="906.3" stroke="#66ff5e" stroke-width="2"/>
<text x="1052.8" y="1389.6" font-family="'Liberation Sans', Arial, sans-serif" font-size="25" fill="#444444" text-anchor="middle">6</text>
<text x="1137.34" y="1389.6" font-family="'Liberation Sans', Arial, sans-serif" font-size="25" fill="#444444" text-anchor="middle">8</text>
<text x="1221.88" y="1389.6" font-family="'Liberation Sans', Arial, sans-serif" font-size="25" fill="#444444" text-anchor="middle">10</text>
<text x="1306.42" y="1389.6" font-family="'Liberation Sans', Arial, sans-serif" font-size="25" fill="#444444" text-anchor="middle">12</text>
<text x="1390.96" y="1389.6" font-family="'Liberation Sans', Arial, sans-serif" font-size="25" fill="#444444" text-anchor="middle">14</text>
<text x="1475.5" y="1389.6" font-family="'Liberation Sans', Arial, sans-serif" font-size="25" fill="#444444" text-anchor="middle">16</text>
<text x="1560.04" y="1389.6" font-family="'Liberation Sans', Arial, sans-serif" font-size="25" fill="#444444" text-anchor="middle">18</text>
<text x="1644.58" y="1389.6" font-family="'Liberation Sans', Arial, sans-serif" font-size="25" fill="#444444" text-anchor="middle">20</text>
<text x="1729.12" y="1389.6" font-family="'Liberation Sans', Arial, sans-serif" font-size="25" fill="#444444" text-anchor="middle">22</text>
<text x="997.3" y="1364.13" font-family="'Liberation Sans', Arial, sans-serif" font-size="25" fill="#444444" text-anchor="end">-0.8</text>
<text x="997.3" y="1308.12" font-family="'Liberation Sans', Arial, sans-serif" font-size="25" fill="#444444" text-anchor="end">-0.7</text>
<text x="997.3" y="1252.11" font-family="'Liberation Sans', Arial, sans-serif" font-size="25" fill="#444444" text-anchor="end">-0.6</text>
<text x="997.3" y="1196.1" font-family="'Liberation Sans', Arial, sans-serif" font-size="25" fill="#444444" text-anchor="end">-0.5</text>
<text x="997.3" y="1140.09" font-family="'Liberation Sans', Arial, sans-serif" font-size="25" fill="#444444" text-anchor="end">-0.4</text>
<text x="997.3" y="1084.08" font-family="'Liberation Sans', Arial, sans-serif" font-size="25" fill="#444444" text-anchor="end">-0.3</text>
<text x="997.3" y="1028.07" font-family="'Liberation Sans', Arial, sans-serif" font-size="25" fill="#444444" text-anchor="end">-0.2</text>
<text x="997.3" y="972.06" font-family="'Liberation Sans', Arial, sans-serif" font-size="25" fill="#444444" text-anchor="end">-0.1</text>
<text x="997.3" y="916.05" font-family="'Liberation Sans', Arial, sans-serif" font-size="25" fill="#444444" text-anchor="end">0</text>
<text x="997.3" y="860.04" font-family="'Liberation Sans', Arial, sans-serif" font-size="25" fill="#444444" text-anchor="end">0.1</text>
<text x="997.3" y="804.03" font-family="'Liberation Sans', Arial, sans-serif" font-size="25" fill="#444444" text-anchor="end">0.2</text>
<rect x="1578.6" y="1244.8" width="134.6" height="89.7" fill="#fff" stroke="#262626" stroke-width="1.4"/>
<line x1="1586.2" y1="1261.2" x2="1658.3" y2="1261.2" stroke="#0000ff" stroke-width="9"/>
<path d="M1612.4 1251.4L1632 1271M1612.4 1271L1632 1251.4" stroke="#0000ff" stroke-width="9.5" fill="none"/>
<line x1="1586.2" y1="1289.3" x2="1648.7" y2="1289.3" stroke="#ff0000" stroke-width="9"/>
<path d="M1612.4 1279.5L1632 1299.1M1612.4 1299.1L1632 1279.5" stroke="#ff0000" stroke-width="9.5" fill="none"/>
<line x1="1586.2" y1="1317.4" x2="1622.2" y2="1317.4" stroke="#000000" stroke-width="9"/>
<path d="M1612.4 1307.6L1632 1327.2M1612.4 1327.2L1632 1307.6" stroke="#000000" stroke-width="9.5" fill="none"/>
<text x="1665.2" y="1269.1" font-family="'Liberation Sans', Arial, sans-serif" font-size="21.6" fill="#444444" text-anchor="start">UKF</text>
<text x="1665.2" y="1297.2" font-family="'Liberation Sans', Arial, sans-serif" font-size="21.6" fill="#444444" text-anchor="start">EKF</text>
<text x="1665.2" y="1325.3" font-family="'Liberation Sans', Arial, sans-serif" font-size="21.6" fill="#444444" text-anchor="start">Ref</text>
<text x="954.3" y="1426" font-family="'Liberation Serif', 'Times New Roman', serif" font-size="32.5" fill="#000" text-anchor="start">(d)</text>
<text x="1289.2" y="1421.6" font-family="'Liberation Sans', Arial, sans-serif" font-size="26.4" fill="#444444">SNR<tspan font-size="21" dy="14.2">pilot</tspan></text>
<text x="1401.6" y="1421.6" font-family="'Liberation Sans', Arial, sans-serif" font-size="26.4" fill="#444444" text-anchor="start">[dB]</text>
<text x="0" y="0" transform="translate(937.7,1103.8) rotate(-90)" font-family="'Liberation Sans', Arial, sans-serif" font-size="27.2" fill="#444444" text-anchor="middle">Secret key rate [bits/symbol]</text>
</g>
</svg>
</body></html>
